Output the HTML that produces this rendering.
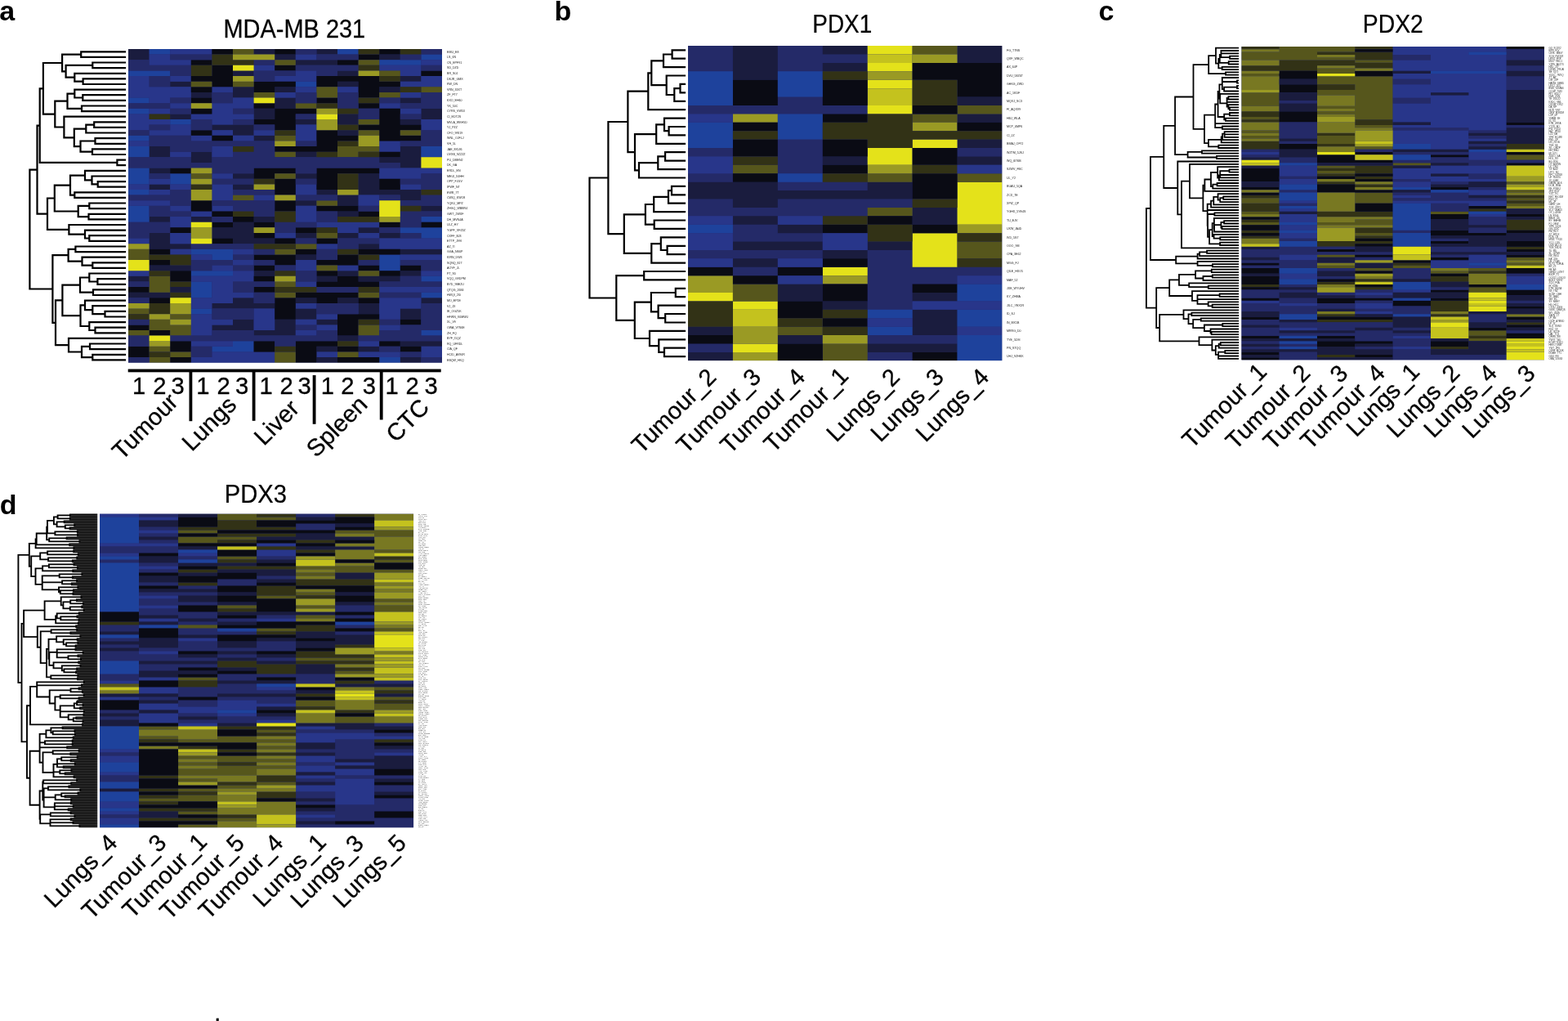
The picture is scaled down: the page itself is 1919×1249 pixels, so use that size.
<!DOCTYPE html>
<html><head><meta charset="utf-8"><title>Figure</title>
<style>
html,body{margin:0;padding:0;background:#fff;}
body{width:1919px;height:1249px;overflow:hidden;}
svg.fig{display:block;font-family:"Liberation Sans",Arial,sans-serif;}
</style></head><body>
<svg class="fig" width="1919" height="1249" viewBox="0 0 1919 1249">
<rect width="1919" height="1249" fill="#fff"/>
<g font-weight="bold" font-size="34">
<text x="-0.8" y="24.9">a</text>
<text x="678.4" y="24.7">b</text>
<text x="1344.4" y="24.9">c</text>
<text x="-0.2" y="628.6">d</text>
</g>
<g font-size="30.5" stroke="#000" stroke-width="0.25">
<text transform="translate(273.4 45.6) scale(0.95 1)">MDA-MB 231</text>
<text transform="translate(994.3 40.2) scale(0.915 1)">PDX1</text>
<text transform="translate(1667.8 40.2) scale(0.93 1)">PDX2</text>
<text transform="translate(274.8 614.7) scale(0.957 1)">PDX3</text>
<text x="262.2" y="1249" font-size="29">.</text>
</g>
<svg x="157.00" y="60.00" width="384.00" height="383.70" viewBox="0 0 15 58" preserveAspectRatio="none">
<rect width="15" height="58" fill="#242c70"/>
<path fill="#1a1c3e" d="M0 0h1v1h-1zM6 0h1v1h-1zM9 0h1v1h-1zM0 1h1v1h-1zM7 1h1v1h-1zM12 1h1v1h-1zM8 2h2v1h-2zM5 4h1v1h-1zM10 4h1v1h-1zM13 5h1v1h-1zM2 6h1v1h-1zM10 6h1v1h-1zM5 7h1v1h-1zM7 7h1v1h-1zM12 7h1v1h-1zM3 8h1v1h-1zM5 8h1v1h-1zM7 9h1v1h-1zM13 9h1v1h-1zM7 10h1v1h-1zM6 11h1v1h-1zM14 11h1v1h-1zM2 12h1v1h-1zM6 12h1v1h-1zM10 12h1v1h-1zM14 12h1v1h-1zM8 13h1v1h-1zM10 13h1v1h-1zM13 13h1v1h-1zM4 14h2v1h-2zM5 15h1v1h-1zM10 15h1v1h-1zM6 16h1v1h-1zM1 18h1v1h-1zM13 18h1v1h-1zM1 19h1v1h-1zM3 19h1v1h-1zM8 19h1v1h-1zM13 19h1v1h-1zM3 20h1v1h-1zM12 20h2v1h-2zM13 21h1v1h-1zM1 22h1v1h-1zM5 23h1v1h-1zM8 23h1v1h-1zM11 23h1v1h-1zM11 24h1v1h-1zM1 25h1v1h-1zM5 25h1v1h-1zM11 25h1v1h-1zM9 26h1v1h-1zM11 26h3v1h-3zM10 27h1v1h-1zM13 27h1v1h-1zM8 28h1v1h-1zM10 28h1v1h-1zM14 29h1v1h-1zM10 30h1v1h-1zM1 31h1v1h-1zM3 31h1v1h-1zM6 31h1v1h-1zM5 32h1v1h-1zM4 33h2v1h-2zM11 33h1v1h-1zM1 34h1v1h-1zM4 34h2v1h-2zM8 34h1v1h-1zM10 34h1v1h-1zM12 34h1v1h-1zM1 35h1v1h-1zM5 35h2v1h-2zM1 36h2v1h-2zM11 36h1v1h-1zM13 37h2v1h-2zM8 38h1v1h-1zM1 40h2v1h-2zM6 41h1v1h-1zM10 41h1v1h-1zM13 41h1v1h-1zM0 42h1v1h-1zM9 42h1v1h-1zM11 42h2v1h-2zM2 44h1v1h-1zM0 45h2v1h-2zM5 46h1v1h-1zM8 46h1v1h-1zM10 46h1v1h-1zM14 46h1v1h-1zM4 47h3v1h-3zM11 47h1v1h-1zM8 48h1v1h-1zM11 48h1v1h-1zM13 48h1v1h-1zM8 49h1v1h-1zM13 49h1v1h-1zM5 50h1v1h-1zM7 50h1v1h-1zM9 50h1v1h-1zM4 51h2v1h-2zM7 51h1v1h-1zM6 52h2v1h-2zM10 53h1v1h-1zM13 54h2v1h-2zM9 55h1v1h-1zM11 55h1v1h-1zM9 57h1v1h-1zM13 57h1v1h-1z"/>
<path fill="#1e429c" d="M1 0h1v1h-1zM10 0h1v1h-1zM14 1h1v1h-1zM12 2h2v1h-2zM0 4h2v1h-2zM8 6h1v1h-1zM0 9h1v1h-1zM0 11h1v1h-1zM2 13h1v1h-1zM0 16h1v1h-1zM0 18h1v1h-1zM14 18h1v1h-1zM0 19h1v1h-1zM14 19h1v1h-1zM0 22h1v1h-1zM0 23h1v1h-1zM2 23h1v1h-1zM0 24h1v1h-1zM2 24h1v1h-1zM0 26h1v1h-1zM0 29h1v1h-1zM0 30h1v1h-1zM0 31h1v1h-1zM14 31h1v1h-1zM13 33h2v1h-2zM14 34h1v1h-1zM3 37h2v1h-2zM4 38h1v1h-1zM12 38h1v1h-1zM12 39h1v1h-1zM12 40h1v1h-1zM3 41h2v1h-2zM14 42h1v1h-1zM3 43h1v1h-1zM3 44h1v1h-1zM3 45h1v1h-1zM14 45h1v1h-1zM3 48h1v1h-1zM14 52h1v1h-1zM5 54h1v1h-1zM4 55h2v1h-2zM12 57h1v1h-1z"/>
<path fill="#28368a" d="M2 0h2v1h-2zM1 1h1v1h-1zM8 1h1v1h-1zM1 2h2v1h-2zM14 2h1v1h-1zM6 3h1v1h-1zM12 3h2v1h-2zM8 4h1v1h-1zM13 4h1v1h-1zM0 5h1v1h-1zM2 5h1v1h-1zM7 5h2v1h-2zM14 5h1v1h-1zM0 6h1v1h-1zM13 6h2v1h-2zM0 7h3v1h-3zM4 7h1v1h-1zM8 7h1v1h-1zM10 7h1v1h-1zM0 8h3v1h-3zM7 8h1v1h-1zM13 8h1v1h-1zM1 9h1v1h-1zM5 9h1v1h-1zM2 10h1v1h-1zM4 10h2v1h-2zM12 10h1v1h-1zM1 11h1v1h-1zM4 11h1v1h-1zM13 11h1v1h-1zM0 12h1v1h-1zM3 12h3v1h-3zM0 13h2v1h-2zM4 13h1v1h-1zM14 13h1v1h-1zM0 14h1v1h-1zM2 14h1v1h-1zM8 14h1v1h-1zM14 14h1v1h-1zM1 15h2v1h-2zM4 15h1v1h-1zM6 15h1v1h-1zM8 15h1v1h-1zM3 16h1v1h-1zM5 16h1v1h-1zM8 16h1v1h-1zM0 17h1v1h-1zM12 17h1v1h-1zM4 18h1v1h-1zM12 18h1v1h-1zM2 19h1v1h-1zM4 19h1v1h-1zM12 22h3v1h-3zM4 23h1v1h-1zM12 23h2v1h-2zM1 24h1v1h-1zM0 25h1v1h-1zM2 25h1v1h-1zM4 25h1v1h-1zM8 25h1v1h-1zM13 25h1v1h-1zM1 26h1v1h-1zM4 26h1v1h-1zM8 26h1v1h-1zM4 27h1v1h-1zM6 27h1v1h-1zM11 27h1v1h-1zM0 28h2v1h-2zM11 28h1v1h-1zM2 29h1v1h-1zM4 29h1v1h-1zM8 29h1v1h-1zM3 30h1v1h-1zM8 30h1v1h-1zM2 31h1v1h-1zM8 31h1v1h-1zM2 32h1v1h-1zM9 32h3v1h-3zM10 33h1v1h-1zM2 34h1v1h-1zM7 34h1v1h-1zM11 34h1v1h-1zM0 35h1v1h-1zM2 35h1v1h-1zM12 35h3v1h-3zM9 36h1v1h-1zM12 36h3v1h-3zM2 37h1v1h-1zM5 37h1v1h-1zM3 38h1v1h-1zM13 38h2v1h-2zM5 39h1v1h-1zM8 39h1v1h-1zM4 40h1v1h-1zM8 40h1v1h-1zM10 40h1v1h-1zM0 41h1v1h-1zM5 41h1v1h-1zM14 41h1v1h-1zM3 42h3v1h-3zM4 43h1v1h-1zM8 43h1v1h-1zM4 44h1v1h-1zM12 44h3v1h-3zM4 45h2v1h-2zM3 46h2v1h-2zM12 46h2v1h-2zM3 47h1v1h-1zM8 47h1v1h-1zM12 47h2v1h-2zM6 48h1v1h-1zM12 48h1v1h-1zM3 49h1v1h-1zM6 49h1v1h-1zM9 49h1v1h-1zM12 49h1v1h-1zM3 50h2v1h-2zM6 50h1v1h-1zM8 50h1v1h-1zM3 51h1v1h-1zM6 51h1v1h-1zM9 51h1v1h-1zM12 51h1v1h-1zM3 52h1v1h-1zM8 52h1v1h-1zM3 54h2v1h-2zM11 54h1v1h-1zM14 55h1v1h-1zM4 56h3v1h-3zM9 56h1v1h-1zM11 56h2v1h-2zM14 56h1v1h-1zM3 57h4v1h-4z"/>
<path fill="#0a0b14" d="M4 0h1v1h-1zM7 0h1v1h-1zM12 0h1v1h-1zM11 1h1v1h-1zM3 2h1v1h-1zM10 2h1v1h-1zM4 3h1v1h-1zM7 3h1v1h-1zM4 4h1v1h-1zM14 4h1v1h-1zM3 5h2v1h-2zM9 5h3v1h-3zM4 6h1v1h-1zM6 6h2v1h-2zM9 6h1v1h-1zM11 6h2v1h-2zM3 7h1v1h-1zM6 7h1v1h-1zM11 7h1v1h-1zM11 8h1v1h-1zM3 9h1v1h-1zM9 9h1v1h-1zM6 10h1v1h-1zM11 10h1v1h-1zM3 11h1v1h-1zM7 11h2v1h-2zM12 11h1v1h-1zM7 12h1v1h-1zM12 12h1v1h-1zM6 13h2v1h-2zM12 13h1v1h-1zM7 14h1v1h-1zM11 14h3v1h-3zM3 15h1v1h-1zM9 15h1v1h-1zM12 15h1v1h-1zM4 16h1v1h-1zM9 16h2v1h-2zM12 16h2v1h-2zM9 17h1v1h-1zM7 18h3v1h-3zM12 19h1v1h-1zM2 22h1v1h-1zM6 22h2v1h-2zM9 22h3v1h-3zM6 23h1v1h-1zM9 23h1v1h-1zM7 24h1v1h-1zM9 24h1v1h-1zM12 24h1v1h-1zM7 25h1v1h-1zM9 25h1v1h-1zM12 25h1v1h-1zM7 26h1v1h-1zM3 28h1v1h-1zM7 28h1v1h-1zM3 29h1v1h-1zM7 29h1v1h-1zM9 29h2v1h-2zM4 30h1v1h-1zM11 30h1v1h-1zM5 31h1v1h-1zM4 32h1v1h-1zM6 32h1v1h-1zM12 32h1v1h-1zM14 32h1v1h-1zM2 33h1v1h-1zM8 33h1v1h-1zM6 34h1v1h-1zM4 35h1v1h-1zM7 35h1v1h-1zM9 35h1v1h-1zM1 37h1v1h-1zM8 37h1v1h-1zM11 37h2v1h-2zM6 38h2v1h-2zM10 38h1v1h-1zM1 39h1v1h-1zM7 39h1v1h-1zM9 39h2v1h-2zM6 40h1v1h-1zM11 40h1v1h-1zM13 40h1v1h-1zM2 41h1v1h-1zM9 41h1v1h-1zM12 41h1v1h-1zM2 42h1v1h-1zM6 42h1v1h-1zM10 42h1v1h-1zM9 43h3v1h-3zM0 44h1v1h-1zM6 44h1v1h-1zM8 45h3v1h-3zM1 46h1v1h-1zM7 46h1v1h-1zM9 46h1v1h-1zM11 46h1v1h-1zM7 47h1v1h-1zM7 48h1v1h-1zM7 49h1v1h-1zM10 49h2v1h-2zM10 50h1v1h-1zM13 50h1v1h-1zM0 51h1v1h-1zM10 51h1v1h-1zM1 52h1v1h-1zM10 52h1v1h-1zM2 54h1v1h-1zM6 54h1v1h-1zM8 54h2v1h-2zM12 54h1v1h-1zM0 55h1v1h-1zM2 55h1v1h-1zM6 55h1v1h-1zM8 55h1v1h-1zM10 55h1v1h-1zM13 55h1v1h-1zM0 56h1v1h-1zM8 56h1v1h-1zM2 57h1v1h-1zM8 57h1v1h-1zM10 57h2v1h-2z"/>
<path fill="#56561c" d="M5 0h1v1h-1zM7 2h1v1h-1zM11 2h1v1h-1zM12 4h1v1h-1zM3 6h1v1h-1zM5 6h1v1h-1zM9 7h1v1h-1zM14 7h1v1h-1zM6 8h1v1h-1zM9 8h1v1h-1zM12 8h1v1h-1zM8 10h1v1h-1zM11 13h1v1h-1zM11 15h1v1h-1zM13 15h1v1h-1zM7 16h1v1h-1zM10 18h2v1h-2zM7 19h1v1h-1zM10 19h1v1h-1zM3 23h1v1h-1zM7 23h1v1h-1zM5 27h1v1h-1zM9 28h1v1h-1zM9 34h1v1h-1zM8 36h1v1h-1zM0 37h1v1h-1zM7 37h1v1h-1zM0 38h1v1h-1zM9 40h1v1h-1zM11 41h1v1h-1zM1 42h1v1h-1zM1 43h1v1h-1zM7 43h1v1h-1zM1 44h1v1h-1zM7 45h1v1h-1zM11 45h1v1h-1zM0 48h1v1h-1zM2 49h1v1h-1zM1 50h1v1h-1zM1 51h2v1h-2zM11 51h1v1h-1zM0 52h1v1h-1zM2 52h1v1h-1zM11 52h1v1h-1zM1 55h1v1h-1zM2 56h1v1h-1zM7 56h1v1h-1zM10 56h1v1h-1zM1 57h1v1h-1zM7 57h1v1h-1z"/>
<path fill="#242a68" d="M8 0h1v1h-1zM14 0h1v1h-1zM2 1h2v1h-2zM9 1h2v1h-2zM13 1h1v1h-1zM0 2h1v1h-1zM6 2h1v1h-1zM0 3h3v1h-3zM8 3h3v1h-3zM14 3h1v1h-1zM2 4h1v1h-1zM6 4h2v1h-2zM9 4h1v1h-1zM1 5h1v1h-1zM6 5h1v1h-1zM1 6h1v1h-1zM4 8h1v1h-1zM8 8h1v1h-1zM10 8h1v1h-1zM14 8h1v1h-1zM2 9h1v1h-1zM4 9h1v1h-1zM8 9h1v1h-1zM10 9h1v1h-1zM12 9h1v1h-1zM14 9h1v1h-1zM0 10h2v1h-2zM10 10h1v1h-1zM13 10h2v1h-2zM2 11h1v1h-1zM5 11h1v1h-1zM11 11h1v1h-1zM8 12h1v1h-1zM11 12h1v1h-1zM13 12h1v1h-1zM3 13h1v1h-1zM5 13h1v1h-1zM1 14h1v1h-1zM3 14h1v1h-1zM6 14h1v1h-1zM0 15h1v1h-1zM14 15h1v1h-1zM1 16h2v1h-2zM14 16h1v1h-1zM1 17h6v1h-6zM8 17h1v1h-1zM13 17h2v1h-2zM2 18h2v1h-2zM6 18h1v1h-1zM5 19h2v1h-2zM0 20h3v1h-3zM4 20h8v1h-8zM0 21h13v1h-13zM4 22h2v1h-2zM8 22h1v1h-1zM1 23h1v1h-1zM14 23h1v1h-1zM4 24h2v1h-2zM8 24h1v1h-1zM13 24h2v1h-2zM14 25h1v1h-1zM2 26h1v1h-1zM5 26h2v1h-2zM0 27h3v1h-3zM8 27h2v1h-2zM12 27h1v1h-1zM14 27h1v1h-1zM2 28h1v1h-1zM4 28h3v1h-3zM13 28h2v1h-2zM1 29h1v1h-1zM5 29h2v1h-2zM11 29h1v1h-1zM1 30h2v1h-2zM6 30h1v1h-1zM9 30h1v1h-1zM13 30h2v1h-2zM4 31h1v1h-1zM9 31h1v1h-1zM13 31h1v1h-1zM0 32h2v1h-2zM7 32h2v1h-2zM13 32h1v1h-1zM0 33h2v1h-2zM7 33h1v1h-1zM12 33h1v1h-1zM0 34h1v1h-1zM13 34h1v1h-1zM8 35h1v1h-1zM10 35h2v1h-2zM3 36h3v1h-3zM10 36h1v1h-1zM6 37h1v1h-1zM9 37h1v1h-1zM5 38h1v1h-1zM9 38h1v1h-1zM3 39h2v1h-2zM6 39h1v1h-1zM11 39h1v1h-1zM13 39h2v1h-2zM3 40h1v1h-1zM5 40h1v1h-1zM7 40h1v1h-1zM14 40h1v1h-1zM8 41h1v1h-1zM8 42h1v1h-1zM13 42h1v1h-1zM0 43h1v1h-1zM5 43h2v1h-2zM12 43h3v1h-3zM5 44h1v1h-1zM9 44h2v1h-2zM6 45h1v1h-1zM12 45h2v1h-2zM0 46h1v1h-1zM6 46h1v1h-1zM9 47h2v1h-2zM14 47h1v1h-1zM4 48h2v1h-2zM9 48h2v1h-2zM14 48h1v1h-1zM4 49h2v1h-2zM14 49h1v1h-1zM0 50h1v1h-1zM12 50h1v1h-1zM14 50h1v1h-1zM8 51h1v1h-1zM13 51h2v1h-2zM4 52h2v1h-2zM9 52h1v1h-1zM12 52h2v1h-2zM0 53h1v1h-1zM2 53h8v1h-8zM11 53h4v1h-4zM0 54h1v1h-1zM7 54h1v1h-1zM3 55h1v1h-1zM12 55h1v1h-1zM3 56h1v1h-1zM13 56h1v1h-1zM0 57h1v1h-1zM14 57h1v1h-1z"/>
<path fill="#323216" d="M11 0h1v1h-1zM13 0h1v1h-1zM4 1h1v1h-1zM4 2h2v1h-2zM3 3h1v1h-1zM11 3h1v1h-1zM3 4h1v1h-1zM12 5h1v1h-1zM13 7h1v1h-1zM11 9h1v1h-1zM9 10h1v1h-1zM10 11h1v1h-1zM1 12h1v1h-1zM10 14h1v1h-1zM7 15h1v1h-1zM10 17h1v1h-1zM5 18h1v1h-1zM9 19h1v1h-1zM11 19h1v1h-1zM10 23h1v1h-1zM6 24h1v1h-1zM10 24h1v1h-1zM3 25h1v1h-1zM10 25h1v1h-1zM14 26h1v1h-1zM13 29h1v1h-1zM5 30h1v1h-1zM7 30h1v1h-1zM7 31h1v1h-1zM10 31h2v1h-2zM9 33h1v1h-1zM6 36h2v1h-2zM10 37h1v1h-1zM1 38h2v1h-2zM11 38h1v1h-1zM2 39h1v1h-1zM1 41h1v1h-1zM7 41h1v1h-1zM2 43h1v1h-1zM7 44h2v1h-2zM11 44h1v1h-1zM2 45h1v1h-1zM1 47h1v1h-1zM1 48h1v1h-1zM0 49h1v1h-1zM11 50h1v1h-1zM10 54h1v1h-1zM7 55h1v1h-1zM1 56h1v1h-1z"/>
<path fill="#9a9a24" d="M5 1h2v1h-2zM11 4h1v1h-1zM5 5h1v1h-1zM3 10h1v1h-1zM9 11h1v1h-1zM9 13h1v1h-1zM9 14h1v1h-1zM11 16h1v1h-1zM7 17h1v1h-1zM11 17h1v1h-1zM3 22h1v1h-1zM3 24h1v1h-1zM6 25h1v1h-1zM3 26h1v1h-1zM10 26h1v1h-1zM3 27h1v1h-1zM7 27h1v1h-1zM12 31h1v1h-1zM3 33h1v1h-1zM6 33h1v1h-1zM3 34h1v1h-1zM0 36h1v1h-1zM7 42h1v1h-1zM0 47h1v1h-1zM2 47h1v1h-1zM2 48h1v1h-1zM1 49h1v1h-1zM2 50h1v1h-1zM1 54h1v1h-1z"/>
<path fill="#e4e21a" d="M5 3h1v1h-1zM6 9h1v1h-1zM9 12h1v1h-1zM14 20h1v1h-1zM14 21h1v1h-1zM12 28h1v1h-1zM12 29h1v1h-1zM12 30h1v1h-1zM3 32h1v1h-1zM3 35h1v1h-1zM0 39h1v1h-1zM0 40h1v1h-1zM2 46h1v1h-1zM1 53h1v1h-1z"/>
</svg>
<path fill="none" stroke="#000" stroke-width="2.2" stroke-linecap="square" d="M153.0 63.3H99.2V69.9H153.0M153.0 76.5H113.3V83.2H153.0M153.0 96.4H101.6V103.0H153.0M153.0 89.8H91.3V99.7H101.6M113.3 79.8H80.6V94.7H91.3M99.2 66.6H76.1V87.3H80.6M153.0 116.2H101.3V122.8H153.0M153.0 109.6H91.3V119.5H101.3M153.0 129.5H100.0V136.1H153.0M91.3 114.6H82.5V132.8H100.0M153.0 149.3H115.2V155.9H153.0M115.2 152.6H105.3V162.5H153.0M153.0 169.2H116.5V175.8H153.0M153.0 182.4H113.0V189.0H153.0M116.5 172.5H98.5V185.7H113.0M105.3 157.6H90.8V179.1H98.5M153.0 142.7H78.4V168.3H90.8M82.5 123.7H67.3V155.5H78.4M76.1 77.0H52.9V139.6H67.3M153.0 195.6H143.4V202.2H153.0M52.9 108.3H48.7V198.9H143.4M153.0 222.1H119.7V228.7H153.0M153.0 215.5H112.5V225.4H119.7M153.0 208.8H104.0V220.4H112.5M153.0 235.3H91.3V241.9H153.0M104.0 214.6H86.0V238.6H91.3M153.0 248.5H109.3V255.2H153.0M153.0 261.8H108.5V268.4H153.0M109.3 251.8H95.7V265.1H108.5M86.0 226.6H66.8V258.5H95.7M153.0 288.2H109.3V294.9H153.0M153.0 281.6H104.0V291.5H109.3M153.0 275.0H84.4V286.6H104.0M66.8 242.5H58.0V280.8H84.4M48.7 153.6H45.5V261.7H58.0M153.0 301.5H92.4V308.1H153.0M153.0 321.3H113.3V327.9H153.0M153.0 314.7H100.5V324.6H113.3M92.4 304.8H83.6V319.7H100.5M153.0 341.2H119.4V347.8H153.0M153.0 334.5H109.3V344.5H119.4M153.0 354.4H114.0V361.0H153.0M109.3 339.5H98.0V357.7H114.0M153.0 380.9H128.5V387.5H153.0M153.0 374.2H113.3V384.2H128.5M153.0 367.6H104.0V379.2H113.3M153.0 400.7H116.5V407.3H153.0M153.0 394.1H109.3V404.0H116.5M104.0 373.4H98.5V399.0H109.3M98.0 348.6H76.4V386.2H98.5M153.0 420.5H110.0V427.2H153.0M153.0 433.8H113.3V440.4H153.0M110.0 423.9H100.0V437.1H113.3M153.0 413.9H84.0V430.5H100.0M76.4 367.4H68.0V422.2H84.0M83.6 312.2H64.4V394.8H68.0M45.5 207.6H36.4V353.5H64.4"/>
<g font-size="3.60" fill="#222">
<text x="547.0" y="64.57">EMU_E8</text>
<text x="547.0" y="71.18">LS_6N</text>
<text x="547.0" y="77.80">CN_EPF91</text>
<text x="547.0" y="84.41">SD_DZD</text>
<text x="547.0" y="91.03">BR_S0J</text>
<text x="547.0" y="97.65">DSJR_GMX</text>
<text x="547.0" y="104.26">RW_DN</text>
<text x="547.0" y="110.88">VRN_33XT</text>
<text x="547.0" y="117.49">ZF_FT7</text>
<text x="547.0" y="124.11">KXO_EH60</text>
<text x="547.0" y="130.72">YK_50C</text>
<text x="547.0" y="137.34">CYRS_VW53</text>
<text x="547.0" y="143.95">CI_EDT2S</text>
<text x="547.0" y="150.57">MVLA_WKH5D</text>
<text x="547.0" y="157.19">YJ_PZZ</text>
<text x="547.0" y="163.80">CFO_9RI19</text>
<text x="547.0" y="170.42">WNL_OJFLJ</text>
<text x="547.0" y="177.03">VH_5L</text>
<text x="547.0" y="183.65">JAE_8XUI6</text>
<text x="547.0" y="190.26">UVXB_9ZZZZ</text>
<text x="547.0" y="196.88">PU_DMEN2</text>
<text x="547.0" y="203.49">DK_GA</text>
<text x="547.0" y="210.11">ERDL_EN</text>
<text x="547.0" y="216.72">MEUI_X4HH</text>
<text x="547.0" y="223.34">OPP_FJGV</text>
<text x="547.0" y="229.96">IPWF_N7</text>
<text x="547.0" y="236.57">EWR_7T</text>
<text x="547.0" y="243.19">CWIQ_KWO8</text>
<text x="547.0" y="249.80">YQKU_MPZ</text>
<text x="547.0" y="256.42">ZHGQ_WBBR4</text>
<text x="547.0" y="263.03">GWT_2WXF</text>
<text x="547.0" y="269.65">DH_MVN4A</text>
<text x="547.0" y="276.26">ULZ_HY</text>
<text x="547.0" y="282.88">YGPF_VFZ3Z</text>
<text x="547.0" y="289.50">CXFF_BJ3</text>
<text x="547.0" y="296.11">ETTP_J99I</text>
<text x="547.0" y="302.73">AZ_7I</text>
<text x="547.0" y="309.34">GGA_NS6P</text>
<text x="547.0" y="315.96">KIRN_DW3</text>
<text x="547.0" y="322.57">SQNQ_8J7</text>
<text x="547.0" y="329.19">AOYF_JL</text>
<text x="547.0" y="335.80">PT_9D</text>
<text x="547.0" y="342.42">VQQ_G9DPM</text>
<text x="547.0" y="349.03">BYD_9BE2U</text>
<text x="547.0" y="355.65">QTQG_2684</text>
<text x="547.0" y="362.27">HWQI_2I0</text>
<text x="547.0" y="368.88">MO_EP1E</text>
<text x="547.0" y="375.50">VJ_JX</text>
<text x="547.0" y="382.11">IE_OGZ5K</text>
<text x="547.0" y="388.73">HFWN_V0MWU</text>
<text x="547.0" y="395.34">XL_V9</text>
<text x="547.0" y="401.96">OWA_V7S6E</text>
<text x="547.0" y="408.57">ZH_FQ</text>
<text x="547.0" y="415.19">BYF_I1QZ</text>
<text x="547.0" y="421.81">RQ_UFRDL</text>
<text x="547.0" y="428.42">CIA_QF</text>
<text x="547.0" y="435.04">HCID_AV90R</text>
<text x="547.0" y="441.65">EBQW_HKQ</text>
</g>
<rect x="156.7" y="451.5" width="383" height="3.8" fill="#000"/>
<rect x="231.5" y="455.0" width="3.8" height="60.2" fill="#000"/>
<rect x="308.7" y="455.0" width="3.8" height="59.8" fill="#000"/>
<rect x="382.7" y="459.0" width="3.8" height="59.8" fill="#000"/>
<rect x="464.8" y="455.0" width="3.8" height="58.5" fill="#000"/>
<g font-size="29.2" text-anchor="middle" stroke="#000" stroke-width="0.3">
<text x="170.0" y="481.5">1</text>
<text x="195.4" y="481.5">2</text>
<text x="217.7" y="481.5">3</text>
<text x="248.4" y="481.5">1</text>
<text x="273.5" y="481.5">2</text>
<text x="296.0" y="481.5">3</text>
<text x="325.7" y="481.5">1</text>
<text x="350.5" y="481.5">2</text>
<text x="372.7" y="481.5">3</text>
<text x="400.9" y="481.5">1</text>
<text x="425.3" y="481.5">2</text>
<text x="451.9" y="481.5">3</text>
<text x="479.5" y="481.5">1</text>
<text x="504.7" y="481.5">2</text>
<text x="527.5" y="481.5">3</text>
</g>
<text x="0" y="0" font-size="29.2" text-anchor="end" stroke="#000" stroke-width="0.3" transform="translate(219.5 493.3) rotate(-45)">Tumour</text>
<text x="0" y="0" font-size="29.2" text-anchor="end" stroke="#000" stroke-width="0.3" transform="translate(291.1 497.0) rotate(-45)">Lungs</text>
<text x="0" y="0" font-size="29.2" text-anchor="end" stroke="#000" stroke-width="0.3" transform="translate(367.8 501.4) rotate(-45)">Liver</text>
<text x="0" y="0" font-size="29.2" text-anchor="end" stroke="#000" stroke-width="0.3" transform="translate(451.2 496.6) rotate(-45)">Spleen</text>
<text x="0" y="0" font-size="29.2" text-anchor="end" stroke="#000" stroke-width="0.3" transform="translate(526.9 500.0) rotate(-45)">CTC</text>
<svg x="842.00" y="56.10" width="384.50" height="385.20" viewBox="0 0 7 37" preserveAspectRatio="none">
<rect width="7" height="37" fill="#242c70"/>
<path fill="#242a68" d="M0 0h1v1h-1zM2 0h1v1h-1zM0 1h1v1h-1zM2 1h2v1h-2zM0 2h1v1h-1zM2 2h1v1h-1zM2 6h1v1h-1zM0 7h4v1h-4zM2 11h1v1h-1zM0 12h1v1h-1zM2 12h1v1h-1zM6 12h1v1h-1zM2 13h1v1h-1zM2 14h1v1h-1zM0 15h1v1h-1zM2 16h2v1h-2zM0 18h1v1h-1zM2 18h3v1h-3zM0 19h4v1h-4zM1 21h1v1h-1zM1 22h2v1h-2zM0 24h3v1h-3zM4 24h1v1h-1zM4 25h1v1h-1zM1 26h1v1h-1zM4 26h3v1h-3zM4 27h2v1h-2zM4 28h1v1h-1zM4 29h1v1h-1zM4 30h1v1h-1zM4 34h2v1h-2zM0 35h1v1h-1zM4 36h1v1h-1z"/>
<path fill="#1a1c3e" d="M1 0h1v1h-1zM3 0h1v1h-1zM6 0h1v1h-1zM1 1h1v1h-1zM6 1h1v1h-1zM1 2h1v1h-1zM3 2h1v1h-1zM1 3h1v1h-1zM6 6h1v1h-1zM6 8h1v1h-1zM6 11h1v1h-1zM3 13h1v1h-1zM6 13h1v1h-1zM0 16h2v1h-2zM4 16h1v1h-1zM0 17h5v1h-5zM1 18h1v1h-1zM5 19h1v1h-1zM1 20h1v1h-1zM5 20h1v1h-1zM2 21h1v1h-1zM1 23h2v1h-2zM4 23h1v1h-1zM3 24h1v1h-1zM1 25h1v1h-1zM2 28h1v1h-1zM2 29h1v1h-1zM5 29h1v1h-1zM3 30h1v1h-1zM5 31h1v1h-1zM5 32h1v1h-1zM0 33h1v1h-1zM5 33h1v1h-1zM2 34h1v1h-1zM4 35h2v1h-2zM0 36h1v1h-1z"/>
<path fill="#e4e21a" d="M4 0h1v1h-1zM4 2h1v1h-1zM4 4h1v1h-1zM4 7h1v1h-1zM5 11h1v1h-1zM4 12h1v1h-1zM4 13h1v1h-1zM6 16h1v1h-1zM6 17h1v1h-1zM6 18h1v1h-1zM6 19h1v1h-1zM6 20h1v1h-1zM5 22h1v1h-1zM5 23h1v1h-1zM5 24h1v1h-1zM5 25h1v1h-1zM3 26h1v1h-1zM0 29h1v1h-1zM1 30h1v1h-1zM1 35h1v1h-1z"/>
<path fill="#56561c" d="M5 0h1v1h-1zM6 7h1v1h-1zM5 8h1v1h-1zM1 14h1v1h-1zM4 15h1v1h-1zM6 15h1v1h-1zM4 19h1v1h-1zM6 23h1v1h-1zM6 24h1v1h-1zM1 28h1v1h-1zM1 29h1v1h-1zM2 33h1v1h-1zM3 35h1v1h-1zM3 36h1v1h-1z"/>
<path fill="#c4c21e" d="M4 1h1v1h-1zM4 5h1v1h-1zM4 6h1v1h-1zM1 31h1v1h-1zM1 32h1v1h-1z"/>
<path fill="#9a9a24" d="M5 1h1v1h-1zM4 3h1v1h-1zM1 8h1v1h-1zM5 9h1v1h-1zM4 14h1v1h-1zM6 21h1v1h-1zM0 27h1v1h-1zM3 27h1v1h-1zM0 28h1v1h-1zM1 33h1v1h-1zM1 34h1v1h-1zM3 34h1v1h-1zM1 36h1v1h-1z"/>
<path fill="#0a0b14" d="M5 2h2v1h-2zM5 3h2v1h-2zM1 4h1v1h-1zM3 4h1v1h-1zM6 4h1v1h-1zM1 5h1v1h-1zM3 5h1v1h-1zM6 5h1v1h-1zM1 6h1v1h-1zM3 6h1v1h-1zM5 7h1v1h-1zM3 8h1v1h-1zM1 9h1v1h-1zM6 9h1v1h-1zM1 11h1v1h-1zM3 11h1v1h-1zM1 12h1v1h-1zM3 12h1v1h-1zM5 12h1v1h-1zM5 13h1v1h-1zM3 14h1v1h-1zM1 15h1v1h-1zM5 15h1v1h-1zM5 16h1v1h-1zM5 17h1v1h-1zM4 20h1v1h-1zM3 21h1v1h-1zM5 21h1v1h-1zM3 25h1v1h-1zM0 26h1v1h-1zM2 26h1v1h-1zM1 27h1v1h-1zM3 28h1v1h-1zM5 28h1v1h-1zM3 29h1v1h-1zM2 30h1v1h-1zM2 31h1v1h-1zM3 32h1v1h-1zM0 34h1v1h-1zM2 35h1v1h-1zM2 36h1v1h-1zM5 36h1v1h-1z"/>
<path fill="#1e429c" d="M0 3h1v1h-1zM2 3h1v1h-1zM0 4h1v1h-1zM2 4h1v1h-1zM0 5h1v1h-1zM2 5h1v1h-1zM0 6h1v1h-1zM2 8h1v1h-1zM0 9h1v1h-1zM2 9h1v1h-1zM0 10h1v1h-1zM2 10h1v1h-1zM0 11h1v1h-1zM2 15h1v1h-1zM0 21h1v1h-1zM6 28h1v1h-1zM6 29h1v1h-1zM4 31h1v1h-1zM6 31h1v1h-1zM6 32h1v1h-1zM4 33h1v1h-1zM6 34h1v1h-1zM6 35h1v1h-1zM6 36h1v1h-1z"/>
<path fill="#323216" d="M3 3h1v1h-1zM5 4h1v1h-1zM5 5h1v1h-1zM5 6h1v1h-1zM4 8h1v1h-1zM3 9h2v1h-2zM1 10h1v1h-1zM3 10h4v1h-4zM4 11h1v1h-1zM1 13h1v1h-1zM5 14h1v1h-1zM3 15h1v1h-1zM5 18h1v1h-1zM3 20h1v1h-1zM4 21h1v1h-1zM4 22h1v1h-1zM6 22h1v1h-1zM6 25h1v1h-1zM0 30h1v1h-1zM0 31h1v1h-1zM3 31h1v1h-1zM0 32h1v1h-1zM2 32h1v1h-1zM3 33h1v1h-1z"/>
<path fill="#28368a" d="M0 8h1v1h-1zM0 13h1v1h-1zM0 14h1v1h-1zM6 14h1v1h-1zM0 20h1v1h-1zM2 20h1v1h-1zM0 22h1v1h-1zM3 22h1v1h-1zM0 23h1v1h-1zM3 23h1v1h-1zM0 25h1v1h-1zM2 25h1v1h-1zM2 27h1v1h-1zM6 27h1v1h-1zM5 30h2v1h-2zM4 32h1v1h-1zM6 33h1v1h-1z"/>
</svg>
<path fill="none" stroke="#000" stroke-width="2.2" stroke-linecap="square" d="M838.0 61.3H822.6V71.7H838.0M822.6 66.5H812.0V82.1H838.0M838.0 102.9H832.5V113.4H838.0M832.5 108.2H825.3V123.8H838.0M838.0 92.5H815.7V116.0H825.3M812.0 74.3H797.3V104.2H815.7M797.3 89.3H793.3V134.2H838.0M838.0 155.0H818.6V165.4H838.0M838.0 144.6H813.0V160.2H818.6M813.0 152.4H803.2V175.8H838.0M838.0 186.2H814.1V196.6H838.0M814.1 191.4H805.3V207.1H838.0M805.3 199.2H782.0V217.5H838.0M803.2 164.1H777.0V208.4H782.0M793.3 111.7H768.4V186.2H777.0M838.0 227.9H822.0V238.3H838.0M822.0 233.1H818.0V248.7H838.0M818.0 240.9H800.2V259.1H838.0M838.0 269.5H800.7V279.9H838.0M800.2 250.0H789.9V274.7H800.7M838.0 300.8H816.6V311.2H838.0M838.0 290.3H808.8V306.0H816.6M808.8 298.2H797.3V321.6H838.0M789.9 262.4H763.8V309.9H797.3M768.4 149.0H744.4V286.1H763.8M838.0 332.0H788.2V342.4H838.0M838.0 352.8H826.8V363.2H838.0M838.0 384.0H814.2V394.5H838.0M838.0 373.6H805.6V389.2H814.2M826.8 358.0H796.9V381.4H805.6M838.0 425.7H813.0V436.1H838.0M838.0 415.3H806.3V430.9H813.0M838.0 404.9H795.0V423.1H806.3M796.9 369.7H776.8V414.0H795.0M788.2 337.2H754.3V391.8H776.8M744.4 217.5H721.5V364.5H754.3"/>
<g font-size="3.60" fill="#222">
<text x="1232.0" y="62.57">FG_T7NS</text>
<text x="1232.0" y="72.98">QVF_WBQC</text>
<text x="1232.0" y="83.39">AX_64P</text>
<text x="1232.0" y="93.80">DVU_58Z6T</text>
<text x="1232.0" y="104.21">GHKG_ZWD</text>
<text x="1232.0" y="114.62">AC_1KDF</text>
<text x="1232.0" y="125.03">MQVJ_SC3</text>
<text x="1232.0" y="135.44">FI_AQXV9</text>
<text x="1232.0" y="145.85">HBJ_WLA</text>
<text x="1232.0" y="156.26">MCP_6MP6</text>
<text x="1232.0" y="166.67">CI_JZ</text>
<text x="1232.0" y="177.08">BMAJ_OF7J</text>
<text x="1232.0" y="187.50">WZTM_5JSJ</text>
<text x="1232.0" y="197.91">WQ_6I76B</text>
<text x="1232.0" y="208.32">SZWV_FBC</text>
<text x="1232.0" y="218.73">UL_Y2</text>
<text x="1232.0" y="229.14">BUAU_5QA</text>
<text x="1232.0" y="239.55">ZCX_7E</text>
<text x="1232.0" y="249.96">XPIZ_QP</text>
<text x="1232.0" y="260.37">YGHX_5YE4S</text>
<text x="1232.0" y="270.78">TU_EJV</text>
<text x="1232.0" y="281.19">UXW_IA4D</text>
<text x="1232.0" y="291.60">IVD_5S7</text>
<text x="1232.0" y="302.01">OOO_9M</text>
<text x="1232.0" y="312.42">CPA_3E62</text>
<text x="1232.0" y="322.84">MGG_FJ</text>
<text x="1232.0" y="333.25">QILE_HXO5</text>
<text x="1232.0" y="343.66">MAF_52</text>
<text x="1232.0" y="354.07">JXE_WYUHV</text>
<text x="1232.0" y="364.48">KY_ZHMA</text>
<text x="1232.0" y="374.89">JILC_YEX1R</text>
<text x="1232.0" y="385.30">ID_SJ</text>
<text x="1232.0" y="395.71">IN_MX1B</text>
<text x="1232.0" y="406.12">MRRG_D0</text>
<text x="1232.0" y="416.53">TYE_5D9I</text>
<text x="1232.0" y="426.94">PN_STQQ</text>
<text x="1232.0" y="437.35">UHJ_9ZHKK</text>
</g>
<text x="0" y="0" font-size="29.2" text-anchor="end" stroke="#000" stroke-width="0.3" transform="translate(878.3 462.9) rotate(-45)">Tumour_2</text>
<text x="0" y="0" font-size="29.2" text-anchor="end" stroke="#000" stroke-width="0.3" transform="translate(933.1 462.9) rotate(-45)">Tumour_3</text>
<text x="0" y="0" font-size="29.2" text-anchor="end" stroke="#000" stroke-width="0.3" transform="translate(986.9 462.9) rotate(-45)">Tumour_4</text>
<text x="0" y="0" font-size="29.2" text-anchor="end" stroke="#000" stroke-width="0.3" transform="translate(1040.1 461.5) rotate(-45)">Tumour_1</text>
<text x="0" y="0" font-size="29.2" text-anchor="end" stroke="#000" stroke-width="0.3" transform="translate(1102.7 462.9) rotate(-45)">Lungs_2</text>
<text x="0" y="0" font-size="29.2" text-anchor="end" stroke="#000" stroke-width="0.3" transform="translate(1156.8 462.9) rotate(-45)">Lungs_3</text>
<text x="0" y="0" font-size="29.2" text-anchor="end" stroke="#000" stroke-width="0.3" transform="translate(1211.9 462.9) rotate(-45)">Lungs_4</text>
<svg x="1519.30" y="57.00" width="370.70" height="383.50" viewBox="0 0 8 116" preserveAspectRatio="none">
<rect width="8" height="116" fill="#242c70"/>
<path fill="#323216" d="M0 0h1v1h-1zM3 0h1v1h-1zM2 2h2v1h-2zM3 3h1v1h-1zM3 4h1v1h-1zM1 5h2v1h-2zM1 6h3v1h-3zM0 7h2v1h-2zM3 7h1v1h-1zM0 8h2v1h-2zM2 14h1v1h-1zM2 15h1v1h-1zM0 24h1v1h-1zM0 25h1v1h-1zM0 27h1v1h-1zM3 27h1v1h-1zM3 28h1v1h-1zM2 32h1v1h-1zM0 35h1v1h-1zM0 36h1v1h-1zM2 36h1v1h-1zM7 36h1v1h-1zM0 37h1v1h-1zM7 37h1v1h-1zM3 44h1v1h-1zM2 45h2v1h-2zM3 46h1v1h-1zM2 47h1v1h-1zM3 48h1v1h-1zM2 50h1v1h-1zM3 51h1v1h-1zM0 55h1v1h-1zM7 55h1v1h-1zM7 57h1v1h-1zM0 58h1v1h-1zM0 59h1v1h-1zM0 60h1v1h-1zM6 60h1v1h-1zM2 61h2v1h-2zM2 62h2v1h-2zM0 64h1v1h-1zM7 64h1v1h-1zM7 65h1v1h-1zM7 66h1v1h-1zM3 67h1v1h-1zM7 67h1v1h-1zM0 68h1v1h-1zM3 68h1v1h-1zM0 70h1v1h-1zM3 70h1v1h-1zM2 72h2v1h-2zM2 73h1v1h-1zM7 74h1v1h-1zM4 80h1v1h-1zM6 83h1v1h-1zM5 85h1v1h-1zM3 86h1v1h-1zM5 86h1v1h-1zM2 87h1v1h-1zM0 88h1v1h-1zM3 89h1v1h-1zM5 94h1v1h-1zM5 95h1v1h-1zM5 96h1v1h-1zM5 97h1v1h-1zM2 99h1v1h-1zM5 99h1v1h-1zM2 101h2v1h-2zM7 102h1v1h-1zM6 107h1v1h-1zM5 111h1v1h-1zM2 114h1v1h-1z"/>
<path fill="#56561c" d="M1 0h2v1h-2zM1 1h2v1h-2zM0 2h2v1h-2zM0 3h2v1h-2zM0 4h3v1h-3zM3 5h1v1h-1zM2 8h1v1h-1zM2 9h1v1h-1zM0 10h1v1h-1zM2 11h2v1h-2zM2 12h2v1h-2zM2 13h2v1h-2zM3 14h1v1h-1zM3 15h1v1h-1zM2 16h2v1h-2zM0 17h1v1h-1zM2 17h2v1h-2zM0 18h1v1h-1zM3 18h1v1h-1zM0 19h1v1h-1zM3 19h1v1h-1zM0 20h1v1h-1zM3 20h1v1h-1zM0 21h1v1h-1zM3 21h1v1h-1zM2 22h2v1h-2zM3 23h1v1h-1zM2 24h2v1h-2zM3 25h1v1h-1zM0 26h1v1h-1zM3 26h1v1h-1zM3 29h1v1h-1zM0 31h1v1h-1zM0 33h1v1h-1zM2 33h1v1h-1zM2 34h1v1h-1zM2 35h1v1h-1zM3 37h1v1h-1zM7 40h1v1h-1zM7 41h1v1h-1zM4 43h1v1h-1zM2 44h1v1h-1zM2 46h1v1h-1zM7 50h1v1h-1zM7 53h1v1h-1zM3 54h1v1h-1zM3 55h1v1h-1zM0 56h1v1h-1zM3 56h1v1h-1zM7 56h1v1h-1zM0 57h1v1h-1zM3 57h1v1h-1zM7 58h1v1h-1zM0 61h1v1h-1zM5 61h1v1h-1zM3 64h1v1h-1zM0 65h1v1h-1zM2 65h2v1h-2zM3 69h1v1h-1zM2 77h1v1h-1zM7 78h1v1h-1zM7 80h1v1h-1zM2 81h1v1h-1zM4 81h1v1h-1zM3 82h1v1h-1zM6 82h1v1h-1zM5 83h1v1h-1zM6 89h1v1h-1zM6 90h1v1h-1zM6 105h1v1h-1zM6 106h1v1h-1zM6 108h1v1h-1z"/>
<path fill="#28368a" d="M4 0h3v1h-3zM4 1h3v1h-3zM4 2h2v1h-2zM5 3h2v1h-2zM5 4h2v1h-2zM4 5h3v1h-3zM4 6h3v1h-3zM4 7h3v1h-3zM4 8h3v1h-3zM4 10h3v1h-3zM4 11h3v1h-3zM5 12h2v1h-2zM5 13h2v1h-2zM4 14h3v1h-3zM4 15h3v1h-3zM4 16h3v1h-3zM4 17h1v1h-1zM6 17h1v1h-1zM4 18h3v1h-3zM5 19h2v1h-2zM5 20h2v1h-2zM4 21h3v1h-3zM4 22h3v1h-3zM4 23h3v1h-3zM4 24h3v1h-3zM4 25h3v1h-3zM4 26h3v1h-3zM4 27h3v1h-3zM5 28h2v1h-2zM4 29h3v1h-3zM6 30h1v1h-1zM4 31h2v1h-2zM4 32h2v1h-2zM4 33h2v1h-2zM4 34h3v1h-3zM4 35h2v1h-2zM5 36h1v1h-1zM5 37h1v1h-1zM0 39h1v1h-1zM6 39h1v1h-1zM6 40h1v1h-1zM6 41h1v1h-1zM1 44h1v1h-1zM5 44h2v1h-2zM1 45h1v1h-1zM4 45h3v1h-3zM1 46h1v1h-1zM4 46h3v1h-3zM1 47h1v1h-1zM4 47h1v1h-1zM4 48h2v1h-2zM1 49h1v1h-1zM5 49h2v1h-2zM1 50h1v1h-1zM4 50h1v1h-1zM4 51h1v1h-1zM6 53h1v1h-1zM6 54h1v1h-1zM4 55h1v1h-1zM1 57h1v1h-1zM4 57h3v1h-3zM6 58h1v1h-1zM1 60h1v1h-1zM1 62h1v1h-1zM6 62h1v1h-1zM1 63h1v1h-1zM1 64h1v1h-1zM1 66h1v1h-1zM1 67h1v1h-1zM1 69h1v1h-1zM1 70h1v1h-1zM1 77h1v1h-1zM6 77h1v1h-1zM1 78h1v1h-1zM6 78h1v1h-1zM5 79h2v1h-2zM5 80h1v1h-1zM5 81h2v1h-2zM1 84h1v1h-1zM1 85h1v1h-1zM7 85h1v1h-1zM7 86h1v1h-1zM7 87h1v1h-1zM4 90h1v1h-1zM3 91h1v1h-1zM0 94h1v1h-1zM1 95h1v1h-1zM3 95h1v1h-1zM3 96h1v1h-1zM3 98h1v1h-1zM1 104h1v1h-1zM4 107h1v1h-1zM4 111h1v1h-1z"/>
<path fill="#0a0b14" d="M7 0h1v1h-1zM3 1h1v1h-1zM1 9h1v1h-1zM3 9h1v1h-1zM1 10h1v1h-1zM3 10h1v1h-1zM1 11h1v1h-1zM1 14h1v1h-1zM1 15h1v1h-1zM1 16h1v1h-1zM1 24h1v1h-1zM1 25h1v1h-1zM1 26h1v1h-1zM1 27h1v1h-1zM7 28h1v1h-1zM1 36h1v1h-1zM1 37h1v1h-1zM3 39h1v1h-1zM7 39h1v1h-1zM2 40h1v1h-1zM5 40h1v1h-1zM2 41h1v1h-1zM2 42h2v1h-2zM7 43h1v1h-1zM0 45h1v1h-1zM0 46h1v1h-1zM0 47h1v1h-1zM3 47h1v1h-1zM0 48h1v1h-1zM2 48h1v1h-1zM0 49h1v1h-1zM3 49h1v1h-1zM2 51h1v1h-1zM0 52h1v1h-1zM2 52h1v1h-1zM5 52h1v1h-1zM2 53h2v1h-2zM0 54h1v1h-1zM3 58h1v1h-1zM3 59h1v1h-1zM6 59h1v1h-1zM3 60h1v1h-1zM5 62h1v1h-1zM7 62h1v1h-1zM0 63h1v1h-1zM5 63h1v1h-1zM0 66h1v1h-1zM0 67h1v1h-1zM5 68h1v1h-1zM7 68h1v1h-1zM0 69h1v1h-1zM5 69h2v1h-2zM3 71h1v1h-1zM5 72h1v1h-1zM7 72h1v1h-1zM3 73h1v1h-1zM7 73h1v1h-1zM2 75h1v1h-1zM7 75h1v1h-1zM3 77h1v1h-1zM7 77h1v1h-1zM5 78h1v1h-1zM4 79h1v1h-1zM0 80h1v1h-1zM0 82h1v1h-1zM7 82h1v1h-1zM0 83h1v1h-1zM3 83h1v1h-1zM7 83h1v1h-1zM5 84h1v1h-1zM0 85h1v1h-1zM0 86h1v1h-1zM2 86h1v1h-1zM0 87h1v1h-1zM3 88h1v1h-1zM6 88h1v1h-1zM0 89h1v1h-1zM5 90h1v1h-1zM7 90h1v1h-1zM7 91h1v1h-1zM0 93h1v1h-1zM2 93h2v1h-2zM5 93h1v1h-1zM2 94h1v1h-1zM4 94h1v1h-1zM4 95h1v1h-1zM7 96h1v1h-1zM0 100h1v1h-1zM2 100h2v1h-2zM7 100h1v1h-1zM7 103h1v1h-1zM6 104h1v1h-1zM7 106h1v1h-1zM0 107h1v1h-1zM2 107h1v1h-1zM7 107h1v1h-1zM2 109h2v1h-2zM5 109h1v1h-1zM2 110h1v1h-1zM5 110h1v1h-1zM0 113h1v1h-1zM3 114h1v1h-1zM0 115h1v1h-1z"/>
<path fill="#787822" d="M0 1h1v1h-1zM2 3h1v1h-1zM0 5h1v1h-1zM0 6h1v1h-1zM2 7h1v1h-1zM3 8h1v1h-1zM0 9h1v1h-1zM0 11h1v1h-1zM0 12h1v1h-1zM0 13h1v1h-1zM0 14h1v1h-1zM0 15h1v1h-1zM2 18h1v1h-1zM2 19h1v1h-1zM2 20h1v1h-1zM2 21h1v1h-1zM0 22h1v1h-1zM0 23h1v1h-1zM2 23h1v1h-1zM2 25h1v1h-1zM0 28h1v1h-1zM2 28h1v1h-1zM0 29h1v1h-1zM2 29h1v1h-1zM0 30h1v1h-1zM2 30h2v1h-2zM2 31h1v1h-1zM0 32h1v1h-1zM0 34h1v1h-1zM2 37h1v1h-1zM2 38h1v1h-1zM2 49h1v1h-1zM3 50h1v1h-1zM3 52h1v1h-1zM0 53h1v1h-1zM2 54h1v1h-1zM7 54h1v1h-1zM2 55h1v1h-1zM2 56h1v1h-1zM2 57h1v1h-1zM2 58h1v1h-1zM2 59h1v1h-1zM7 59h1v1h-1zM2 60h1v1h-1zM0 62h1v1h-1zM2 63h2v1h-2zM2 64h1v1h-1zM2 66h2v1h-2zM0 71h1v1h-1zM0 72h1v1h-1zM7 79h1v1h-1zM2 80h1v1h-1zM5 82h1v1h-1zM6 84h1v1h-1zM3 85h1v1h-1zM6 85h1v1h-1zM6 86h1v1h-1zM6 87h1v1h-1zM2 88h1v1h-1zM2 98h1v1h-1zM5 98h1v1h-1zM7 99h1v1h-1z"/>
<path fill="#242a68" d="M7 1h1v1h-1zM7 2h1v1h-1zM4 3h1v1h-1zM7 3h1v1h-1zM4 4h1v1h-1zM7 4h1v1h-1zM7 7h1v1h-1zM7 8h1v1h-1zM7 11h1v1h-1zM4 12h1v1h-1zM7 12h1v1h-1zM4 13h1v1h-1zM7 13h1v1h-1zM7 14h1v1h-1zM7 15h1v1h-1zM4 19h1v1h-1zM1 20h1v1h-1zM4 20h1v1h-1zM1 28h1v1h-1zM1 29h1v1h-1zM7 29h1v1h-1zM1 30h1v1h-1zM4 30h2v1h-2zM1 31h1v1h-1zM6 31h1v1h-1zM1 32h1v1h-1zM1 33h1v1h-1zM6 33h1v1h-1zM1 35h1v1h-1zM6 36h1v1h-1zM0 38h1v1h-1zM3 38h1v1h-1zM4 39h2v1h-2zM0 40h1v1h-1zM1 41h1v1h-1zM5 41h1v1h-1zM1 42h1v1h-1zM4 42h4v1h-4zM6 43h1v1h-1zM6 47h1v1h-1zM1 48h1v1h-1zM6 48h1v1h-1zM4 49h1v1h-1zM5 50h1v1h-1zM6 52h1v1h-1zM1 53h1v1h-1zM4 54h2v1h-2zM5 55h1v1h-1zM4 56h3v1h-3zM1 58h1v1h-1zM5 58h1v1h-1zM5 59h1v1h-1zM5 60h1v1h-1zM6 63h1v1h-1zM6 64h1v1h-1zM6 65h1v1h-1zM6 67h1v1h-1zM4 68h1v1h-1zM6 68h1v1h-1zM1 71h1v1h-1zM5 71h1v1h-1zM1 74h2v1h-2zM5 74h2v1h-2zM0 75h2v1h-2zM5 75h2v1h-2zM0 76h4v1h-4zM0 77h1v1h-1zM5 77h1v1h-1zM3 78h1v1h-1zM0 79h2v1h-2zM1 80h1v1h-1zM0 81h2v1h-2zM2 82h1v1h-1zM4 82h1v1h-1zM4 83h1v1h-1zM4 84h1v1h-1zM7 84h1v1h-1zM2 85h1v1h-1zM4 85h1v1h-1zM1 88h1v1h-1zM5 89h1v1h-1zM0 90h2v1h-2zM3 90h1v1h-1zM0 91h1v1h-1zM2 91h1v1h-1zM0 92h1v1h-1zM3 92h1v1h-1zM1 93h1v1h-1zM1 94h1v1h-1zM3 94h1v1h-1zM7 94h1v1h-1zM0 95h1v1h-1zM2 95h1v1h-1zM0 96h3v1h-3zM4 96h1v1h-1zM0 97h2v1h-2zM3 97h2v1h-2zM1 98h1v1h-1zM4 98h1v1h-1zM6 99h1v1h-1zM6 100h1v1h-1zM0 101h1v1h-1zM6 101h1v1h-1zM0 102h4v1h-4zM1 103h3v1h-3zM0 104h1v1h-1zM2 104h1v1h-1zM4 104h1v1h-1zM0 105h1v1h-1zM3 105h1v1h-1zM7 105h1v1h-1zM0 106h5v1h-5zM3 107h1v1h-1zM3 108h2v1h-2zM0 109h1v1h-1zM4 109h1v1h-1zM1 110h1v1h-1zM4 110h1v1h-1zM0 111h1v1h-1zM3 111h1v1h-1zM4 112h1v1h-1zM1 113h1v1h-1zM4 113h1v1h-1zM1 114h1v1h-1zM4 114h3v1h-3zM1 115h1v1h-1zM4 115h3v1h-3z"/>
<path fill="#1e429c" d="M6 2h1v1h-1zM5 9h2v1h-2zM4 36h1v1h-1zM4 37h1v1h-1zM6 38h1v1h-1zM4 40h1v1h-1zM4 41h1v1h-1zM1 43h1v1h-1zM1 51h1v1h-1zM1 52h1v1h-1zM4 52h1v1h-1zM5 53h1v1h-1zM1 54h1v1h-1zM1 55h1v1h-1zM1 56h1v1h-1zM4 58h1v1h-1zM1 59h1v1h-1zM4 59h1v1h-1zM4 60h1v1h-1zM4 61h1v1h-1zM6 61h1v1h-1zM4 62h1v1h-1zM4 63h1v1h-1zM4 64h1v1h-1zM1 65h1v1h-1zM4 65h1v1h-1zM4 66h1v1h-1zM4 67h1v1h-1zM1 68h1v1h-1zM4 69h1v1h-1zM4 70h1v1h-1zM4 71h1v1h-1zM1 72h1v1h-1zM4 72h1v1h-1zM1 73h1v1h-1zM4 73h1v1h-1zM6 80h1v1h-1zM1 82h1v1h-1zM1 83h1v1h-1zM1 86h1v1h-1zM1 87h1v1h-1zM4 87h1v1h-1zM4 88h1v1h-1zM7 88h1v1h-1zM4 89h1v1h-1zM7 89h1v1h-1zM4 93h1v1h-1zM1 99h1v1h-1zM4 99h1v1h-1zM1 100h1v1h-1zM1 107h1v1h-1zM1 109h1v1h-1zM1 111h1v1h-1z"/>
<path fill="#1a1c3e" d="M7 5h1v1h-1zM7 6h1v1h-1zM4 9h1v1h-1zM7 9h1v1h-1zM7 10h1v1h-1zM1 12h1v1h-1zM1 13h1v1h-1zM7 16h1v1h-1zM1 17h1v1h-1zM5 17h1v1h-1zM7 17h1v1h-1zM1 18h1v1h-1zM7 18h1v1h-1zM1 19h1v1h-1zM7 19h1v1h-1zM7 20h1v1h-1zM1 21h1v1h-1zM7 21h1v1h-1zM1 22h1v1h-1zM7 22h1v1h-1zM1 23h1v1h-1zM7 23h1v1h-1zM7 24h1v1h-1zM7 25h1v1h-1zM7 26h1v1h-1zM7 27h1v1h-1zM4 28h1v1h-1zM7 30h1v1h-1zM7 31h1v1h-1zM6 32h2v1h-2zM7 33h1v1h-1zM1 34h1v1h-1zM7 34h1v1h-1zM6 35h2v1h-2zM6 37h1v1h-1zM1 38h1v1h-1zM4 38h2v1h-2zM1 39h1v1h-1zM1 40h1v1h-1zM0 41h1v1h-1zM2 43h2v1h-2zM5 43h1v1h-1zM0 44h1v1h-1zM4 44h1v1h-1zM5 47h1v1h-1zM0 50h1v1h-1zM6 50h1v1h-1zM0 51h1v1h-1zM5 51h2v1h-2zM4 53h1v1h-1zM6 55h1v1h-1zM7 60h1v1h-1zM1 61h1v1h-1zM7 61h1v1h-1zM7 63h1v1h-1zM5 64h1v1h-1zM5 65h1v1h-1zM5 66h2v1h-2zM5 67h1v1h-1zM7 69h1v1h-1zM5 70h3v1h-3zM6 71h2v1h-2zM6 72h1v1h-1zM5 73h2v1h-2zM0 74h1v1h-1zM3 74h1v1h-1zM3 75h1v1h-1zM5 76h3v1h-3zM0 78h1v1h-1zM2 78h1v1h-1zM2 79h1v1h-1zM3 80h1v1h-1zM3 81h1v1h-1zM2 83h1v1h-1zM0 84h1v1h-1zM2 84h1v1h-1zM4 86h1v1h-1zM5 87h1v1h-1zM5 88h1v1h-1zM1 89h1v1h-1zM1 91h1v1h-1zM4 91h2v1h-2zM1 92h2v1h-2zM4 92h2v1h-2zM7 92h1v1h-1zM7 93h1v1h-1zM7 95h1v1h-1zM2 97h1v1h-1zM7 97h1v1h-1zM0 98h1v1h-1zM6 98h2v1h-2zM0 99h1v1h-1zM3 99h1v1h-1zM4 100h1v1h-1zM1 101h1v1h-1zM4 101h1v1h-1zM7 101h1v1h-1zM4 102h1v1h-1zM6 102h1v1h-1zM0 103h1v1h-1zM4 103h1v1h-1zM6 103h1v1h-1zM3 104h1v1h-1zM7 104h1v1h-1zM1 105h2v1h-2zM4 105h1v1h-1zM0 108h3v1h-3zM5 108h1v1h-1zM6 109h1v1h-1zM0 110h1v1h-1zM3 110h1v1h-1zM6 110h1v1h-1zM2 111h1v1h-1zM6 111h1v1h-1zM0 112h4v1h-4zM5 112h2v1h-2zM2 113h2v1h-2zM5 113h2v1h-2zM0 114h1v1h-1zM2 115h2v1h-2z"/>
<path fill="#e4e21a" d="M2 10h1v1h-1zM2 39h1v1h-1zM0 42h1v1h-1zM4 74h1v1h-1zM4 75h1v1h-1zM4 76h1v1h-1zM6 91h1v1h-1zM6 92h1v1h-1zM6 94h1v1h-1zM6 96h1v1h-1zM6 97h1v1h-1zM5 102h1v1h-1zM5 103h1v1h-1zM7 109h1v1h-1zM7 111h1v1h-1zM7 113h1v1h-1zM7 114h1v1h-1zM7 115h1v1h-1z"/>
<path fill="#9a9a24" d="M0 16h1v1h-1zM2 26h1v1h-1zM2 27h1v1h-1zM3 31h1v1h-1zM3 32h1v1h-1zM3 33h1v1h-1zM3 34h1v1h-1zM3 36h1v1h-1zM7 48h1v1h-1zM7 49h1v1h-1zM7 51h1v1h-1zM2 67h1v1h-1zM2 68h1v1h-1zM2 69h1v1h-1zM2 70h1v1h-1zM2 71h1v1h-1zM3 79h1v1h-1zM3 84h1v1h-1zM2 89h1v1h-1zM2 90h1v1h-1zM5 101h1v1h-1z"/>
<path fill="#c4c21e" d="M3 35h1v1h-1zM7 38h1v1h-1zM3 40h1v1h-1zM3 41h1v1h-1zM0 43h1v1h-1zM7 44h1v1h-1zM7 45h1v1h-1zM7 46h1v1h-1zM7 47h1v1h-1zM7 52h1v1h-1zM0 73h1v1h-1zM4 77h1v1h-1zM4 78h1v1h-1zM7 81h1v1h-1zM3 87h1v1h-1zM6 93h1v1h-1zM6 95h1v1h-1zM5 100h1v1h-1zM5 104h1v1h-1zM5 105h1v1h-1zM5 106h1v1h-1zM5 107h1v1h-1zM7 108h1v1h-1zM7 110h1v1h-1zM7 112h1v1h-1z"/>
</svg>
<path fill="none" stroke="#000" stroke-width="1.8" stroke-linecap="square" d="M1515.2 62.0H1494.4V65.3H1515.2M1515.2 68.6H1505.1V71.9H1515.2M1494.4 63.6H1494.4V70.2H1505.1M1515.2 75.2H1503.7V78.5H1515.2M1494.4 66.9H1492.8V76.8H1503.7M1515.2 81.8H1495.7V85.1H1515.2M1492.8 71.9H1491.3V83.4H1495.7M1515.2 58.7H1488.0V77.7H1491.3M1515.2 88.4H1500.0V91.7H1515.2M1488.0 68.2H1479.2V90.1H1500.0M1515.2 98.3H1514.0V101.6H1515.2M1515.2 95.0H1495.8V100.0H1514.0M1515.2 104.9H1514.0V108.2H1515.2M1514.0 106.6H1498.1V111.5H1515.2M1495.8 97.5H1495.8V109.1H1498.1M1515.2 118.2H1503.4V121.5H1515.2M1503.4 119.8H1501.6V124.8H1515.2M1515.2 131.4H1504.9V134.7H1515.2M1515.2 128.1H1503.4V133.0H1504.9M1501.6 122.3H1501.6V130.6H1503.4M1515.2 114.9H1493.2V126.4H1501.6M1495.8 103.3H1492.4V120.6H1493.2M1515.2 138.0H1504.9V141.3H1515.2M1515.2 144.6H1499.9V147.9H1515.2M1504.9 139.7H1498.2V146.3H1499.9M1492.4 112.0H1490.6V143.0H1498.2M1515.2 154.5H1495.9V157.8H1515.2M1515.2 151.2H1487.2V156.2H1495.9M1490.6 127.5H1487.2V153.7H1487.2M1515.2 164.4H1498.6V167.8H1515.2M1515.2 161.1H1498.6V166.1H1498.6M1498.6 163.6H1496.1V171.1H1515.2M1496.1 167.3H1494.7V174.4H1515.2M1515.2 177.7H1491.3V181.0H1515.2M1494.7 170.9H1479.0V179.3H1491.3M1487.2 140.6H1474.0V175.1H1479.0M1479.2 79.1H1460.5V157.8H1474.0M1515.2 184.3H1471.0V187.6H1515.2M1515.2 190.9H1489.0V194.2H1515.2M1471.0 185.9H1453.6V192.5H1489.0M1460.5 118.5H1438.1V189.2H1453.6M1515.2 207.4H1504.5V210.7H1515.2M1504.5 209.1H1493.2V214.0H1515.2M1493.2 211.6H1493.2V217.3H1515.2M1493.2 214.4H1491.9V220.6H1515.2M1515.2 204.1H1490.2V217.5H1491.9M1515.2 224.0H1489.6V227.3H1515.2M1489.6 225.6H1484.3V230.6H1515.2M1490.2 210.8H1482.0V228.1H1484.3M1482.0 219.5H1474.4V233.9H1515.2M1515.2 240.5H1497.2V243.8H1515.2M1497.2 242.1H1493.3V247.1H1515.2M1515.2 237.2H1490.6V244.6H1493.3M1490.6 240.9H1485.3V250.4H1515.2M1485.3 245.7H1482.1V253.7H1515.2M1515.2 260.3H1486.4V263.6H1515.2M1515.2 270.2H1498.1V273.5H1515.2M1515.2 276.9H1495.5V280.2H1515.2M1498.1 271.9H1494.4V278.5H1495.5M1494.4 275.2H1486.1V283.5H1515.2M1515.2 266.9H1485.9V279.3H1486.1M1515.2 290.1H1493.3V293.4H1515.2M1515.2 286.8H1485.6V291.7H1493.3M1485.9 273.1H1483.7V289.2H1485.6M1515.2 296.7H1493.1V300.0H1515.2M1483.7 281.2H1480.1V298.3H1493.1M1486.4 262.0H1478.1V289.8H1480.1M1515.2 257.0H1477.7V275.9H1478.1M1482.1 249.7H1477.7V266.4H1477.7M1474.4 226.7H1472.4V258.1H1477.7M1515.2 200.8H1456.0V242.4H1472.4M1456.0 221.6H1446.0V303.3H1515.2M1515.2 197.5H1441.3V262.4H1446.0M1438.1 153.9H1424.3V230.0H1441.3M1515.2 306.6H1477.1V309.9H1515.2M1477.1 308.3H1468.1V313.2H1515.2M1468.1 310.7H1465.6V316.5H1515.2M1515.2 323.1H1483.9V326.4H1515.2M1515.2 319.8H1465.6V324.8H1483.9M1465.6 313.6H1439.2V322.3H1465.6M1424.3 191.9H1408.0V318.0H1439.2M1515.2 329.7H1482.8V333.1H1515.2M1515.2 336.4H1483.8V339.7H1515.2M1483.8 338.0H1472.5V343.0H1515.2M1482.8 331.4H1463.1V340.5H1472.5M1515.2 349.6H1478.8V352.9H1515.2M1515.2 346.3H1455.2V351.2H1478.8M1463.1 335.9H1443.0V348.8H1455.2M1515.2 359.5H1492.6V362.8H1515.2M1492.6 361.2H1465.5V366.1H1515.2M1515.2 372.7H1483.7V376.0H1515.2M1515.2 369.4H1478.7V374.4H1483.7M1465.5 363.6H1465.5V371.9H1478.7M1515.2 356.2H1459.0V367.8H1465.5M1443.0 342.4H1431.2V362.0H1459.0M1515.2 382.6H1458.4V386.0H1515.2M1515.2 389.3H1469.8V392.6H1515.2M1515.2 395.9H1496.3V399.2H1515.2M1515.2 405.8H1482.6V409.1H1515.2M1515.2 402.5H1481.5V407.4H1482.6M1496.3 397.5H1473.9V405.0H1481.5M1469.8 390.9H1460.2V401.2H1473.9M1458.4 384.3H1454.5V396.1H1460.2M1515.2 379.3H1448.5V390.2H1454.5M1515.2 419.0H1493.8V422.3H1515.2M1493.8 420.7H1491.7V425.6H1515.2M1515.2 428.9H1499.3V432.2H1515.2M1515.2 435.5H1491.1V438.8H1515.2M1499.3 430.6H1491.1V437.2H1491.1M1491.7 423.1H1487.8V433.9H1491.1M1515.2 415.7H1483.4V428.5H1487.8M1515.2 412.4H1467.5V422.1H1483.4M1448.5 384.8H1419.2V417.3H1467.5M1431.2 352.2H1415.2V401.0H1419.2M1408.0 254.9H1402.9V376.6H1415.2"/>
<g font-size="2.90" fill="#333">
<text x="1895.5" y="59.67">GQ_9O2V2</text>
<text x="1895.5" y="62.97">ERG_FLV</text>
<text x="1895.5" y="66.28">CKHL_MB0Y</text>
<text x="1895.5" y="69.59">XQG_RVD5R</text>
<text x="1895.5" y="72.89">LEVQ_FRP</text>
<text x="1895.5" y="76.20">MUO_TBIC1</text>
<text x="1895.5" y="79.50">YZPS_AEZ73</text>
<text x="1895.5" y="82.81">HZD_JJ7</text>
<text x="1895.5" y="86.12">DXWU_F9CAI</text>
<text x="1895.5" y="89.42">SB_IQ71</text>
<text x="1895.5" y="92.73">YDDC_7MYQ</text>
<text x="1895.5" y="96.03">ZT_A8</text>
<text x="1895.5" y="99.34">OIK_47P</text>
<text x="1895.5" y="102.65">HANW_DBM5</text>
<text x="1895.5" y="105.95">UNCI_1XO</text>
<text x="1895.5" y="109.26">BWK_XZMAS</text>
<text x="1895.5" y="112.56">QCGP_TMO</text>
<text x="1895.5" y="115.87">HIY_G5LO</text>
<text x="1895.5" y="119.18">NVB_ZDN</text>
<text x="1895.5" y="122.48">TE_DDLZ2</text>
<text x="1895.5" y="125.79">KXDC_VML</text>
<text x="1895.5" y="129.09">QXOB_YXV2</text>
<text x="1895.5" y="132.40">DA_RF</text>
<text x="1895.5" y="135.71">NDR_YWT</text>
<text x="1895.5" y="139.01">CBW_MX82M</text>
<text x="1895.5" y="142.32">LXP_0P</text>
<text x="1895.5" y="145.62">YMBM_3E</text>
<text x="1895.5" y="148.93">IG_VX</text>
<text x="1895.5" y="152.24">KTB_URTA</text>
<text x="1895.5" y="155.54">YTZU_BO</text>
<text x="1895.5" y="158.85">PW_YQ15I</text>
<text x="1895.5" y="162.16">FAZ_JPUU</text>
<text x="1895.5" y="165.46">LZZ_6M</text>
<text x="1895.5" y="168.77">YFH_EC498</text>
<text x="1895.5" y="172.07">FND_QF</text>
<text x="1895.5" y="175.38">DN_2LOI0</text>
<text x="1895.5" y="178.69">TVH_SS</text>
<text x="1895.5" y="181.99">SIL_QM2P</text>
<text x="1895.5" y="185.30">HH_SMU</text>
<text x="1895.5" y="188.60">MI_67O</text>
<text x="1895.5" y="191.91">ZDUO_GA</text>
<text x="1895.5" y="195.22">HOL_SO</text>
<text x="1895.5" y="198.52">BG_EX6</text>
<text x="1895.5" y="201.83">OT_AGWN</text>
<text x="1895.5" y="205.13">LK_CNQ</text>
<text x="1895.5" y="208.44">TX_AU0</text>
<text x="1895.5" y="211.75">LFTJ_NC</text>
<text x="1895.5" y="215.05">RPC_GZ9J8</text>
<text x="1895.5" y="218.36">UF_R0ST0</text>
<text x="1895.5" y="221.66">JX_00BX</text>
<text x="1895.5" y="224.97">GMXM_A1K</text>
<text x="1895.5" y="228.28">DCM_3KIA</text>
<text x="1895.5" y="231.58">RE_FX6KJ</text>
<text x="1895.5" y="234.89">JFQ_EGY</text>
<text x="1895.5" y="238.19">YZZ_TIC</text>
<text x="1895.5" y="241.50">KBT_FKOZM</text>
<text x="1895.5" y="244.81">FSG_Z7</text>
<text x="1895.5" y="248.11">ML_JP</text>
<text x="1895.5" y="251.42">GBRY_UH</text>
<text x="1895.5" y="254.72">TOR_0TP1</text>
<text x="1895.5" y="258.03">VLO_LBA53</text>
<text x="1895.5" y="261.34">OY_L4ZGE</text>
<text x="1895.5" y="264.64">LN_F266</text>
<text x="1895.5" y="267.95">BBUE_U6</text>
<text x="1895.5" y="271.25">BY_IBEHM</text>
<text x="1895.5" y="274.56">PJ_OEW</text>
<text x="1895.5" y="277.87">YIFK_3JQ6</text>
<text x="1895.5" y="281.17">GSI_UXC</text>
<text x="1895.5" y="284.48">FM_RUY</text>
<text x="1895.5" y="287.78">ZZ_H7DX</text>
<text x="1895.5" y="291.09">RQS_Q8</text>
<text x="1895.5" y="294.40">MXZL_YXJX</text>
<text x="1895.5" y="297.70">YCO_LDS</text>
<text x="1895.5" y="301.01">IJUS_ACOJ</text>
<text x="1895.5" y="304.31">TUN_6XDI5</text>
<text x="1895.5" y="307.62">TU_BD</text>
<text x="1895.5" y="310.93">SL_G7W8</text>
<text x="1895.5" y="314.23">NS_INX4</text>
<text x="1895.5" y="317.54">EA_J2G</text>
<text x="1895.5" y="320.84">UE_ZQAD</text>
<text x="1895.5" y="324.15">RLTU_75PKA</text>
<text x="1895.5" y="327.46">BR_ZL</text>
<text x="1895.5" y="330.76">FB_A9</text>
<text x="1895.5" y="334.07">GENG_L6TET</text>
<text x="1895.5" y="337.37">BXZP_Y1</text>
<text x="1895.5" y="340.68">OCXU_LOGQO</text>
<text x="1895.5" y="343.99">BDKX_DR91</text>
<text x="1895.5" y="347.29">ZQIJ_F6A</text>
<text x="1895.5" y="350.60">IH_KUM</text>
<text x="1895.5" y="353.91">KTH_8447A</text>
<text x="1895.5" y="357.21">NX_TNZ</text>
<text x="1895.5" y="360.52">SCSF_CBH</text>
<text x="1895.5" y="363.82">TF_JBBC</text>
<text x="1895.5" y="367.13">WU_EC</text>
<text x="1895.5" y="370.44">SY_M8EY</text>
<text x="1895.5" y="373.74">HG_HCC</text>
<text x="1895.5" y="377.05">CYUU_4GIG</text>
<text x="1895.5" y="380.35">GJKK_QBWQS</text>
<text x="1895.5" y="383.66">WY_U64S</text>
<text x="1895.5" y="386.97">XAZN_17</text>
<text x="1895.5" y="390.27">LP_8N</text>
<text x="1895.5" y="393.58">CSJF_A7MSD</text>
<text x="1895.5" y="396.88">LP_5L</text>
<text x="1895.5" y="400.19">SLQ_KSNO</text>
<text x="1895.5" y="403.50">FDU_59</text>
<text x="1895.5" y="406.80">UK_GZZF</text>
<text x="1895.5" y="410.11">UAL_TQ1</text>
<text x="1895.5" y="413.41">QFMU_3I8</text>
<text x="1895.5" y="416.72">YWYT_WU</text>
<text x="1895.5" y="420.03">EOVR_K32Q</text>
<text x="1895.5" y="423.33">HEKO_6MR</text>
<text x="1895.5" y="426.64">YWT_JPU</text>
<text x="1895.5" y="429.94">QLFH_MQGK</text>
<text x="1895.5" y="433.25">DGME_TT1</text>
<text x="1895.5" y="436.56">GDU_RN</text>
<text x="1895.5" y="439.86">OBA_1O6S3</text>
</g>
<text x="0" y="0" font-size="29.2" text-anchor="end" stroke="#000" stroke-width="0.3" transform="translate(1552.1 456.5) rotate(-45)">Tumour_1</text>
<text x="0" y="0" font-size="29.2" text-anchor="end" stroke="#000" stroke-width="0.3" transform="translate(1605.2 457.9) rotate(-45)">Tumour_2</text>
<text x="0" y="0" font-size="29.2" text-anchor="end" stroke="#000" stroke-width="0.3" transform="translate(1651.2 458.5) rotate(-45)">Tumour_3</text>
<text x="0" y="0" font-size="29.2" text-anchor="end" stroke="#000" stroke-width="0.3" transform="translate(1696.8 457.9) rotate(-45)">Tumour_4</text>
<text x="0" y="0" font-size="29.2" text-anchor="end" stroke="#000" stroke-width="0.3" transform="translate(1738.9 456.5) rotate(-45)">Lungs_1</text>
<text x="0" y="0" font-size="29.2" text-anchor="end" stroke="#000" stroke-width="0.3" transform="translate(1788.3 457.9) rotate(-45)">Lungs_2</text>
<text x="0" y="0" font-size="29.2" text-anchor="end" stroke="#000" stroke-width="0.3" transform="translate(1833.7 457.9) rotate(-45)">Lungs_4</text>
<text x="0" y="0" font-size="29.2" text-anchor="end" stroke="#000" stroke-width="0.3" transform="translate(1880.6 458.5) rotate(-45)">Lungs_3</text>
<svg x="122.00" y="628.40" width="384.20" height="384.00" viewBox="0 0 8 96" preserveAspectRatio="none">
<rect width="8" height="96" fill="#242c70"/>
<path fill="#28368a" d="M0 0h1v1h-1zM1 1h1v1h-1zM1 5h1v1h-1zM0 9h2v1h-2zM4 9h1v1h-1zM4 11h1v1h-1zM0 12h1v1h-1zM2 12h1v1h-1zM4 12h1v1h-1zM1 16h1v1h-1zM1 25h1v1h-1zM1 28h1v1h-1zM1 32h1v1h-1zM4 32h1v1h-1zM2 38h1v1h-1zM1 42h1v1h-1zM1 50h1v1h-1zM0 51h1v1h-1zM1 53h1v1h-1zM4 53h1v1h-1zM1 54h1v1h-1zM0 56h1v1h-1zM3 57h1v1h-1zM1 58h1v1h-1zM3 58h2v1h-2zM1 59h3v1h-3zM2 60h1v1h-1zM1 61h1v1h-1zM3 61h1v1h-1zM1 62h1v1h-1zM1 63h1v1h-1zM4 63h1v1h-1zM2 64h1v1h-1zM5 65h1v1h-1zM5 67h2v1h-2zM5 68h3v1h-3zM5 69h1v1h-1zM0 72h1v1h-1zM7 73h1v1h-1zM0 74h1v1h-1zM5 74h1v1h-1zM0 75h1v1h-1zM5 75h1v1h-1zM6 76h1v1h-1zM5 77h1v1h-1zM5 78h2v1h-2zM0 79h1v1h-1zM6 79h1v1h-1zM5 80h1v1h-1zM6 81h1v1h-1zM6 82h1v1h-1zM5 83h2v1h-2zM5 84h2v1h-2zM6 85h1v1h-1zM6 86h1v1h-1zM6 87h1v1h-1zM0 88h1v1h-1zM6 88h1v1h-1zM0 89h1v1h-1zM0 91h1v1h-1zM5 92h1v1h-1zM0 93h1v1h-1zM0 94h1v1h-1z"/>
<path fill="#242a68" d="M1 0h1v1h-1zM5 0h1v1h-1zM5 3h1v1h-1zM1 4h1v1h-1zM5 4h1v1h-1zM1 6h1v1h-1zM1 8h1v1h-1zM0 10h2v1h-2zM0 11h2v1h-2zM2 13h1v1h-1zM4 13h1v1h-1zM0 14h1v1h-1zM1 15h1v1h-1zM1 17h1v1h-1zM4 19h1v1h-1zM3 20h1v1h-1zM1 21h1v1h-1zM3 21h1v1h-1zM2 22h1v1h-1zM1 24h2v1h-2zM1 26h1v1h-1zM1 27h2v1h-2zM6 28h1v1h-1zM1 29h1v1h-1zM6 29h1v1h-1zM1 30h2v1h-2zM2 31h1v1h-1zM4 31h1v1h-1zM6 31h1v1h-1zM3 32h1v1h-1zM2 33h1v1h-1zM0 34h1v1h-1zM6 34h1v1h-1zM0 35h1v1h-1zM2 35h1v1h-1zM2 36h2v1h-2zM6 36h1v1h-1zM0 38h1v1h-1zM2 39h1v1h-1zM4 39h1v1h-1zM0 40h1v1h-1zM2 40h1v1h-1zM4 40h1v1h-1zM1 41h4v1h-4zM0 42h1v1h-1zM0 43h2v1h-2zM3 43h1v1h-1zM0 44h3v1h-3zM4 44h1v1h-1zM1 46h2v1h-2zM1 47h1v1h-1zM0 49h1v1h-1zM3 49h3v1h-3zM0 50h1v1h-1zM3 50h1v1h-1zM5 50h1v1h-1zM5 51h1v1h-1zM7 51h1v1h-1zM3 52h1v1h-1zM2 53h2v1h-2zM2 54h3v1h-3zM2 55h1v1h-1zM1 56h1v1h-1zM3 56h2v1h-2zM2 57h1v1h-1zM4 57h1v1h-1zM2 58h1v1h-1zM0 60h1v1h-1zM2 61h1v1h-1zM0 62h1v1h-1zM3 62h2v1h-2zM2 63h2v1h-2zM7 64h1v1h-1zM5 66h2v1h-2zM7 67h1v1h-1zM6 69h1v1h-1zM6 70h1v1h-1zM6 71h1v1h-1zM5 72h3v1h-3zM0 73h1v1h-1zM6 73h1v1h-1zM6 74h1v1h-1zM5 76h1v1h-1zM0 80h1v1h-1zM6 80h2v1h-2zM0 81h1v1h-1zM5 81h1v1h-1zM7 83h1v1h-1zM7 84h1v1h-1zM5 85h1v1h-1zM5 86h1v1h-1zM7 87h1v1h-1zM5 88h1v1h-1zM7 88h1v1h-1zM6 89h2v1h-2zM6 90h2v1h-2zM5 91h2v1h-2zM0 92h1v1h-1zM6 92h1v1h-1zM5 93h3v1h-3zM7 94h1v1h-1zM5 95h3v1h-3z"/>
<path fill="#1a1c3e" d="M2 0h1v1h-1zM5 1h1v1h-1zM1 2h1v1h-1zM1 3h1v1h-1zM6 3h1v1h-1zM5 6h1v1h-1zM1 7h1v1h-1zM4 7h3v1h-3zM2 10h1v1h-1zM5 10h2v1h-2zM1 13h1v1h-1zM1 14h1v1h-1zM4 14h1v1h-1zM2 15h2v1h-2zM3 17h2v1h-2zM2 18h1v1h-1zM4 18h1v1h-1zM6 18h1v1h-1zM1 19h1v1h-1zM6 19h1v1h-1zM1 20h1v1h-1zM4 20h1v1h-1zM1 23h2v1h-2zM3 24h1v1h-1zM6 24h1v1h-1zM2 25h1v1h-1zM2 26h1v1h-1zM3 27h1v1h-1zM6 27h1v1h-1zM3 30h3v1h-3zM1 31h1v1h-1zM2 32h1v1h-1zM1 33h1v1h-1zM3 33h1v1h-1zM0 36h1v1h-1zM5 36h1v1h-1zM2 37h1v1h-1zM5 37h2v1h-2zM1 38h1v1h-1zM4 38h1v1h-1zM6 38h1v1h-1zM0 39h2v1h-2zM3 39h1v1h-1zM5 39h2v1h-2zM1 40h1v1h-1zM3 40h1v1h-1zM5 40h1v1h-1zM0 41h1v1h-1zM3 42h1v1h-1zM2 43h1v1h-1zM4 43h1v1h-1zM3 44h1v1h-1zM1 45h2v1h-2zM4 45h1v1h-1zM5 46h1v1h-1zM3 47h1v1h-1zM5 47h1v1h-1zM1 48h2v1h-2zM5 48h1v1h-1zM1 49h1v1h-1zM3 51h2v1h-2zM6 52h2v1h-2zM5 54h1v1h-1zM0 55h2v1h-2zM3 55h2v1h-2zM7 55h1v1h-1zM1 57h1v1h-1zM4 59h1v1h-1zM1 60h1v1h-1zM0 61h1v1h-1zM4 61h1v1h-1zM2 62h1v1h-1zM0 63h1v1h-1zM0 64h1v1h-1zM3 64h1v1h-1zM5 64h2v1h-2zM6 65h2v1h-2zM5 70h1v1h-1zM5 71h1v1h-1zM7 71h1v1h-1zM5 73h1v1h-1zM7 74h1v1h-1zM6 75h2v1h-2zM7 76h1v1h-1zM6 77h2v1h-2zM5 79h1v1h-1zM7 81h1v1h-1zM5 82h1v1h-1zM0 84h1v1h-1zM7 85h1v1h-1zM5 87h1v1h-1zM5 90h1v1h-1zM1 91h1v1h-1zM1 92h1v1h-1zM5 94h1v1h-1z"/>
<path fill="#56561c" d="M3 0h1v1h-1zM3 1h2v1h-2zM2 5h1v1h-1zM6 5h2v1h-2zM7 6h1v1h-1zM2 7h2v1h-2zM2 8h1v1h-1zM7 11h1v1h-1zM3 13h1v1h-1zM7 14h1v1h-1zM5 16h2v1h-2zM6 17h2v1h-2zM5 18h1v1h-1zM5 24h1v1h-1zM4 25h1v1h-1zM7 26h1v1h-1zM3 28h1v1h-1zM5 28h1v1h-1zM7 28h1v1h-1zM7 29h1v1h-1zM5 31h1v1h-1zM2 34h1v1h-1zM4 35h1v1h-1zM7 35h1v1h-1zM5 44h2v1h-2zM6 48h1v1h-1zM2 50h1v1h-1zM0 52h1v1h-1zM7 53h1v1h-1zM7 56h1v1h-1zM5 57h1v1h-1zM5 58h1v1h-1zM7 58h1v1h-1zM7 59h1v1h-1zM6 62h1v1h-1zM6 63h1v1h-1zM1 65h1v1h-1zM4 66h1v1h-1zM1 68h1v1h-1zM3 68h1v1h-1zM2 69h3v1h-3zM4 71h1v1h-1zM2 74h2v1h-2zM3 75h2v1h-2zM2 76h1v1h-1zM3 77h2v1h-2zM2 78h2v1h-2zM2 79h2v1h-2zM2 81h1v1h-1zM4 82h1v1h-1zM3 83h1v1h-1zM2 84h1v1h-1zM2 86h1v1h-1zM1 87h2v1h-2zM2 91h1v1h-1zM3 93h1v1h-1zM2 95h1v1h-1z"/>
<path fill="#323216" d="M4 0h1v1h-1zM6 0h1v1h-1zM3 2h1v1h-1zM3 3h1v1h-1zM2 4h3v1h-3zM3 6h2v1h-2zM3 8h1v1h-1zM5 8h1v1h-1zM4 10h1v1h-1zM5 11h1v1h-1zM7 13h1v1h-1zM3 14h1v1h-1zM3 16h2v1h-2zM2 17h1v1h-1zM5 20h2v1h-2zM2 21h1v1h-1zM5 21h2v1h-2zM4 22h1v1h-1zM4 23h1v1h-1zM4 24h1v1h-1zM5 25h1v1h-1zM3 29h1v1h-1zM0 33h1v1h-1zM5 34h1v1h-1zM5 35h1v1h-1zM4 36h1v1h-1zM6 40h1v1h-1zM5 42h1v1h-1zM5 43h2v1h-2zM3 45h1v1h-1zM5 45h2v1h-2zM3 46h2v1h-2zM4 47h1v1h-1zM6 47h1v1h-1zM4 48h1v1h-1zM2 51h1v1h-1zM6 51h1v1h-1zM2 52h1v1h-1zM7 54h1v1h-1zM5 55h1v1h-1zM7 57h1v1h-1zM5 59h1v1h-1zM6 60h1v1h-1zM3 65h2v1h-2zM4 67h1v1h-1zM1 69h1v1h-1zM7 69h1v1h-1zM2 71h1v1h-1zM3 72h1v1h-1zM4 73h1v1h-1zM3 76h1v1h-1zM1 80h1v1h-1zM4 80h1v1h-1zM4 81h1v1h-1zM3 82h1v1h-1zM1 84h1v1h-1zM2 85h1v1h-1zM4 85h1v1h-1zM1 86h1v1h-1zM4 86h1v1h-1zM1 88h1v1h-1zM1 90h2v1h-2zM3 92h1v1h-1zM1 93h2v1h-2z"/>
<path fill="#787822" d="M7 0h1v1h-1zM7 1h1v1h-1zM6 6h1v1h-1zM7 7h1v1h-1zM7 8h1v1h-1zM6 9h2v1h-2zM7 10h1v1h-1zM6 11h1v1h-1zM6 12h1v1h-1zM6 13h1v1h-1zM6 15h1v1h-1zM5 17h1v1h-1zM5 19h1v1h-1zM7 21h1v1h-1zM5 23h1v1h-1zM7 23h1v1h-1zM7 27h1v1h-1zM5 32h1v1h-1zM7 34h1v1h-1zM7 42h1v1h-1zM6 46h1v1h-1zM6 53h1v1h-1zM0 54h1v1h-1zM6 57h1v1h-1zM6 58h1v1h-1zM6 59h1v1h-1zM5 61h1v1h-1zM5 62h1v1h-1zM7 62h1v1h-1zM5 63h1v1h-1zM7 63h1v1h-1zM1 66h2v1h-2zM1 67h2v1h-2zM2 68h1v1h-1zM4 68h1v1h-1zM4 70h1v1h-1zM1 71h1v1h-1zM4 72h1v1h-1zM4 74h1v1h-1zM2 75h1v1h-1zM4 76h1v1h-1zM2 77h1v1h-1zM4 78h1v1h-1zM4 79h1v1h-1zM2 80h2v1h-2zM3 81h1v1h-1zM3 84h2v1h-2zM3 86h1v1h-1zM3 87h1v1h-1zM4 88h1v1h-1zM4 89h1v1h-1zM3 90h2v1h-2zM3 91h2v1h-2zM3 94h1v1h-1zM3 95h1v1h-1z"/>
<path fill="#1e429c" d="M0 1h1v1h-1zM0 2h1v1h-1zM0 3h1v1h-1zM0 4h1v1h-1zM0 5h1v1h-1zM0 6h1v1h-1zM0 7h1v1h-1zM0 8h1v1h-1zM2 11h1v1h-1zM0 13h1v1h-1zM2 14h1v1h-1zM0 15h1v1h-1zM0 16h1v1h-1zM0 17h1v1h-1zM0 18h1v1h-1zM0 19h1v1h-1zM0 20h1v1h-1zM0 21h1v1h-1zM0 22h1v1h-1zM0 23h1v1h-1zM0 24h1v1h-1zM0 25h1v1h-1zM0 26h1v1h-1zM0 27h1v1h-1zM0 28h1v1h-1zM0 29h1v1h-1zM6 33h1v1h-1zM1 34h1v1h-1zM3 35h1v1h-1zM0 37h1v1h-1zM0 45h1v1h-1zM0 46h1v1h-1zM0 47h1v1h-1zM0 48h1v1h-1zM4 52h1v1h-1zM3 60h1v1h-1zM0 65h1v1h-1zM0 66h1v1h-1zM0 67h1v1h-1zM0 68h1v1h-1zM0 69h1v1h-1zM0 70h1v1h-1zM0 71h1v1h-1zM0 76h1v1h-1zM0 77h1v1h-1zM0 78h1v1h-1zM0 82h1v1h-1zM0 83h1v1h-1zM0 85h1v1h-1zM0 86h1v1h-1zM0 87h1v1h-1zM0 90h1v1h-1zM0 95h1v1h-1z"/>
<path fill="#0a0b14" d="M2 1h1v1h-1zM6 1h1v1h-1zM2 2h1v1h-1zM4 2h3v1h-3zM2 3h1v1h-1zM4 3h1v1h-1zM6 4h1v1h-1zM3 5h3v1h-3zM2 6h1v1h-1zM4 8h1v1h-1zM6 8h1v1h-1zM2 9h2v1h-2zM5 9h1v1h-1zM3 11h1v1h-1zM1 12h1v1h-1zM3 12h1v1h-1zM5 12h1v1h-1zM6 14h1v1h-1zM4 15h1v1h-1zM7 15h1v1h-1zM2 16h1v1h-1zM7 16h1v1h-1zM1 18h1v1h-1zM3 18h1v1h-1zM2 19h2v1h-2zM2 20h1v1h-1zM4 21h1v1h-1zM1 22h1v1h-1zM3 22h1v1h-1zM5 22h2v1h-2zM3 23h1v1h-1zM6 23h1v1h-1zM3 25h1v1h-1zM6 25h1v1h-1zM3 26h2v1h-2zM6 26h1v1h-1zM4 27h1v1h-1zM2 28h1v1h-1zM4 28h1v1h-1zM2 29h1v1h-1zM4 29h1v1h-1zM0 30h1v1h-1zM6 30h1v1h-1zM0 31h1v1h-1zM3 31h1v1h-1zM0 32h1v1h-1zM6 32h1v1h-1zM4 33h2v1h-2zM3 34h2v1h-2zM1 35h1v1h-1zM6 35h1v1h-1zM1 36h1v1h-1zM1 37h1v1h-1zM3 37h2v1h-2zM3 38h1v1h-1zM5 38h1v1h-1zM5 41h1v1h-1zM2 42h1v1h-1zM4 42h1v1h-1zM2 47h1v1h-1zM3 48h1v1h-1zM2 49h1v1h-1zM4 50h1v1h-1zM6 50h1v1h-1zM1 51h1v1h-1zM1 52h1v1h-1zM5 53h1v1h-1zM2 56h1v1h-1zM5 56h1v1h-1zM0 57h1v1h-1zM0 58h1v1h-1zM0 59h1v1h-1zM4 60h1v1h-1zM6 61h1v1h-1zM1 64h1v1h-1zM3 66h1v1h-1zM7 66h1v1h-1zM3 67h1v1h-1zM1 70h3v1h-3zM7 70h1v1h-1zM3 71h1v1h-1zM1 72h1v1h-1zM1 73h1v1h-1zM3 73h1v1h-1zM1 74h1v1h-1zM1 75h1v1h-1zM1 76h1v1h-1zM1 77h1v1h-1zM1 78h1v1h-1zM7 78h1v1h-1zM1 79h1v1h-1zM7 79h1v1h-1zM1 81h1v1h-1zM1 82h1v1h-1zM7 82h1v1h-1zM1 83h2v1h-2zM1 85h1v1h-1zM7 86h1v1h-1zM4 87h1v1h-1zM2 88h1v1h-1zM1 89h2v1h-2zM5 89h1v1h-1zM7 91h1v1h-1zM2 92h1v1h-1zM7 92h1v1h-1zM1 94h2v1h-2zM6 94h1v1h-1zM1 95h1v1h-1z"/>
<path fill="#c4c21e" d="M7 2h1v1h-1zM7 3h1v1h-1zM3 10h1v1h-1zM7 12h1v1h-1zM5 14h1v1h-1zM5 15h1v1h-1zM7 20h1v1h-1zM7 30h1v1h-1zM7 31h1v1h-1zM7 32h1v1h-1zM7 36h1v1h-1zM7 41h1v1h-1zM7 43h1v1h-1zM7 45h1v1h-1zM7 47h1v1h-1zM7 48h1v1h-1zM7 50h1v1h-1zM5 52h1v1h-1zM0 53h1v1h-1zM6 54h1v1h-1zM6 56h1v1h-1zM5 60h1v1h-1zM7 61h1v1h-1zM2 65h1v1h-1zM2 72h1v1h-1zM3 88h1v1h-1zM4 92h1v1h-1zM4 93h1v1h-1zM4 94h1v1h-1z"/>
<path fill="#9a9a24" d="M7 4h1v1h-1zM5 13h1v1h-1zM7 18h1v1h-1zM7 19h1v1h-1zM7 22h1v1h-1zM7 24h1v1h-1zM7 25h1v1h-1zM5 26h1v1h-1zM5 27h1v1h-1zM5 29h1v1h-1zM7 33h1v1h-1zM6 41h1v1h-1zM6 42h1v1h-1zM7 44h1v1h-1zM7 46h1v1h-1zM6 49h2v1h-2zM7 60h1v1h-1zM2 73h1v1h-1zM2 82h1v1h-1zM4 83h1v1h-1zM3 85h1v1h-1zM3 89h1v1h-1zM4 95h1v1h-1z"/>
<path fill="#e4e21a" d="M7 37h1v1h-1zM7 38h1v1h-1zM7 39h1v1h-1zM7 40h1v1h-1zM6 55h1v1h-1zM4 64h1v1h-1z"/>
</svg>
<path fill="none" stroke="#000" stroke-width="1.9" stroke-linecap="square" d="M118.3 629.4H85.9V631.4H118.3M118.3 633.4H85.8V635.4H118.3M85.9 630.4H70.6V634.4H85.8M118.3 637.4H78.7V639.4H118.3M118.3 641.4H91.2V643.4H118.3M118.3 645.4H85.6V647.4H118.3M91.2 642.4H79.8V646.4H85.6M78.7 638.4H69.6V644.4H79.8M70.6 632.4H65.9V641.4H69.6M118.3 649.4H94.8V651.4H118.3M118.3 653.4H95.0V655.4H118.3M94.8 650.4H67.4V654.4H95.0M65.9 636.9H58.0V652.4H67.4M118.3 657.4H81.6V659.4H118.3M118.3 661.4H97.4V663.4H118.3M81.6 658.4H60.2V662.4H97.4M58.0 644.6H57.2V660.4H60.2M118.3 665.4H85.2V667.4H118.3M57.2 652.5H44.7V666.4H85.2M118.3 669.4H90.4V671.4H118.3M44.7 659.5H43.6V670.4H90.4M118.3 673.4H90.2V675.4H118.3M118.3 677.4H95.8V679.4H118.3M90.2 674.4H58.1V678.4H95.8M118.3 681.4H94.3V683.4H118.3M118.3 685.4H88.8V687.4H118.3M94.3 682.4H59.1V686.4H88.8M58.1 676.4H49.2V684.4H59.1M118.3 689.4H90.5V691.4H118.3M118.3 693.4H94.9V695.4H118.3M90.5 690.4H59.9V694.4H94.9M118.3 697.4H89.3V699.4H118.3M59.9 692.4H52.1V698.4H89.3M118.3 701.4H100.4V703.4H118.3M118.3 705.4H88.9V707.4H118.3M100.4 702.4H72.7V706.4H88.9M118.3 709.4H94.1V711.4H118.3M118.3 713.4H87.8V715.4H118.3M94.1 710.4H76.1V714.4H87.8M72.7 704.4H51.7V712.4H76.1M118.3 717.4H95.4V719.4H118.3M118.3 721.4H89.9V723.4H118.3M118.3 725.4H89.5V727.4H118.3M89.9 722.4H73.8V726.4H89.5M95.4 718.4H72.0V724.4H73.8M51.7 708.4H51.7V721.4H72.0M52.1 695.4H43.5V714.9H51.7M49.2 680.4H38.2V705.1H43.5M43.6 664.9H35.8V692.8H38.2M118.3 729.4H99.5V731.4H118.3M118.3 733.4H93.9V735.4H118.3M118.3 737.4H102.0V739.4H118.3M93.9 734.4H86.2V738.4H102.0M118.3 741.4H100.3V743.4H118.3M118.3 745.4H102.7V747.4H118.3M100.3 742.4H85.8V746.4H102.7M86.2 736.4H77.4V744.4H85.8M99.5 730.4H74.7V740.4H77.4M118.3 749.4H96.8V751.4H118.3M118.3 753.4H94.5V755.4H118.3M118.3 757.4H96.6V759.4H118.3M94.5 754.4H74.3V758.4H96.6M96.8 750.4H69.7V756.4H74.3M118.3 761.4H95.9V763.4H118.3M69.7 753.4H68.2V762.4H95.9M74.7 735.4H54.6V757.9H68.2M118.3 765.4H93.2V767.4H118.3M118.3 769.4H94.2V771.4H118.3M118.3 773.4H86.4V775.4H118.3M94.2 770.4H62.6V774.4H86.4M118.3 777.4H98.4V779.4H118.3M118.3 781.4H94.7V783.4H118.3M118.3 785.4H95.4V787.4H118.3M118.3 789.4H92.6V791.4H118.3M95.4 786.4H81.1V790.4H92.6M94.7 782.4H77.7V788.4H81.1M98.4 778.4H69.1V785.4H77.7M118.3 793.4H92.5V795.4H118.3M118.3 797.4H101.7V799.4H118.3M118.3 801.4H95.5V803.4H118.3M118.3 805.4H99.0V807.4H118.3M95.5 802.4H83.5V806.4H99.0M101.7 798.4H69.7V804.4H83.5M92.5 794.4H69.7V801.4H69.7M118.3 809.4H96.3V811.4H118.3M118.3 813.4H98.5V815.4H118.3M118.3 817.4H94.2V819.4H118.3M118.3 821.4H93.1V823.4H118.3M94.2 818.4H78.4V822.4H93.1M98.5 814.4H75.8V820.4H78.4M96.3 810.4H65.5V817.4H75.8M69.7 797.9H60.3V813.9H65.5M69.1 781.9H59.5V805.9H60.3M118.3 825.4H95.3V827.4H118.3M118.3 829.4H94.9V831.4H118.3M95.3 826.4H62.3V830.4H94.9M59.5 793.9H57.0V828.4H62.3M62.6 772.4H49.7V811.1H57.0M93.2 766.4H45.8V791.8H49.7M54.6 746.6H29.1V779.1H45.8M118.3 833.4H102.8V835.4H118.3M118.3 837.4H100.0V839.4H118.3M118.3 841.4H96.6V843.4H118.3M118.3 845.4H100.9V847.4H118.3M96.6 842.4H86.5V846.4H100.9M118.3 849.4H102.7V851.4H118.3M118.3 853.4H96.6V855.4H118.3M102.7 850.4H73.7V854.4H96.6M118.3 857.4H94.9V859.4H118.3M118.3 861.4H101.6V863.4H118.3M94.9 858.4H94.1V862.4H101.6M118.3 865.4H98.1V867.4H118.3M94.1 860.4H90.8V866.4H98.1M118.3 869.4H102.8V871.4H118.3M118.3 873.4H102.4V875.4H118.3M118.3 877.4H93.3V879.4H118.3M118.3 881.4H101.6V883.4H118.3M93.3 878.4H89.8V882.4H101.6M102.4 874.4H83.7V880.4H89.8M102.8 870.4H73.7V877.4H83.7M90.8 863.4H73.7V873.9H73.7M73.7 852.4H67.4V868.6H73.7M86.5 844.4H60.7V860.5H67.4M100.0 838.4H45.2V852.5H60.7M102.8 834.4H45.2V845.4H45.2M118.3 885.4H101.0V887.4H118.3M45.2 839.9H37.0V886.4H101.0M118.3 889.4H76.6V891.4H118.3M118.3 893.4H91.5V895.4H118.3M118.3 897.4H91.9V899.4H118.3M91.5 894.4H64.7V898.4H91.9M76.6 890.4H62.4V896.4H64.7M118.3 901.4H89.8V903.4H118.3M62.4 893.4H56.4V902.4H89.8M118.3 905.4H88.7V907.4H118.3M118.3 909.4H88.7V911.4H118.3M88.7 906.4H55.0V910.4H88.7M118.3 913.4H82.2V915.4H118.3M55.0 908.4H48.6V914.4H82.2M56.4 897.9H48.6V911.4H48.6M118.3 917.4H96.7V919.4H118.3M118.3 921.4H86.3V923.4H118.3M96.7 918.4H64.7V922.4H86.3M118.3 925.4H94.7V927.4H118.3M118.3 929.4H86.7V931.4H118.3M94.7 926.4H75.2V930.4H86.7M118.3 933.4H91.8V935.4H118.3M75.2 928.4H70.0V934.4H91.8M118.3 937.4H77.7V939.4H118.3M70.0 931.4H70.0V938.4H77.7M118.3 941.4H87.4V943.4H118.3M118.3 945.4H79.7V947.4H118.3M87.4 942.4H73.3V946.4H79.7M70.0 934.9H65.5V944.4H73.3M118.3 949.4H90.6V951.4H118.3M65.5 939.6H65.5V950.4H90.6M64.7 920.4H52.5V945.0H65.5M48.6 904.6H48.6V932.7H52.5M118.3 953.4H94.1V955.4H118.3M118.3 957.4H87.2V959.4H118.3M94.1 954.4H53.1V958.4H87.2M118.3 961.4H84.4V963.4H118.3M118.3 965.4H98.3V967.4H118.3M84.4 962.4H59.0V966.4H98.3M118.3 969.4H95.6V971.4H118.3M118.3 973.4H79.6V975.4H118.3M95.6 970.4H75.2V974.4H79.6M118.3 977.4H87.2V979.4H118.3M75.2 972.4H67.7V978.4H87.2M59.0 964.4H53.6V975.4H67.7M118.3 981.4H86.9V983.4H118.3M118.3 985.4H89.7V987.4H118.3M86.9 982.4H66.9V986.4H89.7M118.3 989.4H83.7V991.4H118.3M66.9 984.4H66.8V990.4H83.7M53.6 969.9H53.6V987.4H66.8M53.1 956.4H52.3V978.6H53.6M118.3 993.4H86.6V995.4H118.3M118.3 997.4H91.4V999.4H118.3M86.6 994.4H61.8V998.4H91.4M118.3 1001.4H86.7V1003.4H118.3M118.3 1005.4H89.5V1007.4H118.3M86.7 1002.4H61.5V1006.4H89.5M118.3 1009.4H97.4V1011.4H118.3M61.5 1004.4H61.5V1010.4H97.4M61.8 996.4H49.2V1007.4H61.5M52.3 967.5H48.6V1001.9H49.2M48.6 918.7H36.6V984.7H48.6M37.0 863.2H33.0V951.7H36.6M29.1 762.9H26.5V907.4H33.0M35.8 678.9H22.4V835.1H26.5"/>
<g font-size="2.10" fill="#333">
<text x="512.0" y="630.13">EI_AP10O</text>
<text x="512.0" y="632.13">XUYU_LH3</text>
<text x="512.0" y="634.13">KIU_0P</text>
<text x="512.0" y="636.13">WWU_Q14</text>
<text x="512.0" y="638.13">ATN_UAY</text>
<text x="512.0" y="640.13">DBI_KM7</text>
<text x="512.0" y="642.13">DSO_46B</text>
<text x="512.0" y="644.13">ZLQK_3NLZ6</text>
<text x="512.0" y="646.13">XT_DQRY</text>
<text x="512.0" y="648.13">BAC_0WQGO</text>
<text x="512.0" y="650.13">XMQ_Z3N</text>
<text x="512.0" y="652.13">EY_M4</text>
<text x="512.0" y="654.13">RXHE_03S9</text>
<text x="512.0" y="656.13">EYPL_RYQ</text>
<text x="512.0" y="658.13">VFP_RW</text>
<text x="512.0" y="660.13">UJ_451F</text>
<text x="512.0" y="662.13">LEJM_FU</text>
<text x="512.0" y="664.13">QL_AN</text>
<text x="512.0" y="666.13">UJ_GJOL</text>
<text x="512.0" y="668.13">LZE_Z8K</text>
<text x="512.0" y="670.13">WTZC_M5N7</text>
<text x="512.0" y="672.13">XO_9H</text>
<text x="512.0" y="674.13">NHE_59D43</text>
<text x="512.0" y="676.13">WP_5K8</text>
<text x="512.0" y="678.13">XAFK_5S3X1</text>
<text x="512.0" y="680.13">VCF_BBCV</text>
<text x="512.0" y="682.13">QP_JCN0I</text>
<text x="512.0" y="684.13">DVL_479N</text>
<text x="512.0" y="686.13">NKN_9DSS</text>
<text x="512.0" y="688.13">PMK_6WN5</text>
<text x="512.0" y="690.13">KG_TIFC</text>
<text x="512.0" y="692.13">XRM_ZT</text>
<text x="512.0" y="694.13">AB_4D6</text>
<text x="512.0" y="696.13">TMTE_NC</text>
<text x="512.0" y="698.13">UOUY_GLC</text>
<text x="512.0" y="700.13">YDU_XI</text>
<text x="512.0" y="702.13">RWI_L0CU</text>
<text x="512.0" y="704.13">NS_57</text>
<text x="512.0" y="706.13">DY_Z2EAY</text>
<text x="512.0" y="708.13">SVEP_9GF4N</text>
<text x="512.0" y="710.13">UA_AAHFN</text>
<text x="512.0" y="712.13">EP_RP</text>
<text x="512.0" y="714.13">XXF_XJ</text>
<text x="512.0" y="716.13">YCJU_3QDCA</text>
<text x="512.0" y="718.13">AU_YT</text>
<text x="512.0" y="720.13">XTF_DUX24</text>
<text x="512.0" y="722.13">FEZD_K04Y</text>
<text x="512.0" y="724.13">IZY_SRDV</text>
<text x="512.0" y="726.13">XAET_1PYY</text>
<text x="512.0" y="728.13">MTYH_SAUQR</text>
<text x="512.0" y="730.13">FSY_SJ</text>
<text x="512.0" y="732.13">EIZZ_W8F89</text>
<text x="512.0" y="734.13">ZMG_TDZ</text>
<text x="512.0" y="736.13">WGI_Y3</text>
<text x="512.0" y="738.13">CRZL_OZ</text>
<text x="512.0" y="740.13">QIQK_6MMNM</text>
<text x="512.0" y="742.13">FZ_XWZ7</text>
<text x="512.0" y="744.13">HB_XGX3F</text>
<text x="512.0" y="746.13">KT_WR</text>
<text x="512.0" y="748.13">TADB_5NQ</text>
<text x="512.0" y="750.13">NDO_QCV</text>
<text x="512.0" y="752.13">FM_BD</text>
<text x="512.0" y="754.13">RL_5EZHF</text>
<text x="512.0" y="756.13">KSH_6Z</text>
<text x="512.0" y="758.13">OF_POLC</text>
<text x="512.0" y="760.13">LBR_DQ</text>
<text x="512.0" y="762.13">WXUY_DGJUA</text>
<text x="512.0" y="764.13">VX_2G4U</text>
<text x="512.0" y="766.13">IMD_4YK2</text>
<text x="512.0" y="768.13">ZE_3M</text>
<text x="512.0" y="770.13">FH_XI</text>
<text x="512.0" y="772.13">DMA_2V</text>
<text x="512.0" y="774.13">HPD_JVOD</text>
<text x="512.0" y="776.13">WO_2JR</text>
<text x="512.0" y="778.13">NHE_RS</text>
<text x="512.0" y="780.13">ZFI_GU34H</text>
<text x="512.0" y="782.13">QB_94S</text>
<text x="512.0" y="784.13">IY_X1Q</text>
<text x="512.0" y="786.13">HD_S0KDS</text>
<text x="512.0" y="788.13">UA_6V6I2</text>
<text x="512.0" y="790.13">ZQ_LX1C</text>
<text x="512.0" y="792.13">GIS_IL7</text>
<text x="512.0" y="794.13">WF_FF5</text>
<text x="512.0" y="796.13">FGE_TMA</text>
<text x="512.0" y="798.13">WX_D7WVS</text>
<text x="512.0" y="800.13">PCAN_IRPLX</text>
<text x="512.0" y="802.13">FW_AW72</text>
<text x="512.0" y="804.13">CDLW_UYD</text>
<text x="512.0" y="806.13">DXP_6B78I</text>
<text x="512.0" y="808.13">HC_LKG</text>
<text x="512.0" y="810.13">IRA_GM</text>
<text x="512.0" y="812.13">ATU_7P2GW</text>
<text x="512.0" y="814.13">WF_RH</text>
<text x="512.0" y="816.13">PSQ_HHHZ</text>
<text x="512.0" y="818.13">RS_OJ3</text>
<text x="512.0" y="820.13">MFAU_07CZD</text>
<text x="512.0" y="822.13">KMH_1UZ9</text>
<text x="512.0" y="824.13">KQ_WP1</text>
<text x="512.0" y="826.13">UALD_EU1</text>
<text x="512.0" y="828.13">QV_OI</text>
<text x="512.0" y="830.13">MYO_CC</text>
<text x="512.0" y="832.13">TIVT_8CGQ</text>
<text x="512.0" y="834.13">QA_PCSHT</text>
<text x="512.0" y="836.13">UFD_6R</text>
<text x="512.0" y="838.13">OS_2H6</text>
<text x="512.0" y="840.13">JN_RPF8</text>
<text x="512.0" y="842.13">OTW_YM9</text>
<text x="512.0" y="844.13">LORJ_4TBPV</text>
<text x="512.0" y="846.13">GQ_ZAWKP</text>
<text x="512.0" y="848.13">RKP_SNSD</text>
<text x="512.0" y="850.13">FR_W2</text>
<text x="512.0" y="852.13">BQMO_G7OJ</text>
<text x="512.0" y="854.13">KVL_MR7</text>
<text x="512.0" y="856.13">XX_RI0GA</text>
<text x="512.0" y="858.13">YRS_5Z</text>
<text x="512.0" y="860.13">ENZI_Y2</text>
<text x="512.0" y="862.13">OJXL_WZ79</text>
<text x="512.0" y="864.13">MUKA_Y2TL8</text>
<text x="512.0" y="866.13">ZEN_OFVUP</text>
<text x="512.0" y="868.13">GNA_DQ</text>
<text x="512.0" y="870.13">PJRY_8177</text>
<text x="512.0" y="872.13">VNMO_CW2A</text>
<text x="512.0" y="874.13">CQHD_X6Z9J</text>
<text x="512.0" y="876.13">NP_2V7FK</text>
<text x="512.0" y="878.13">KLC_6LHS</text>
<text x="512.0" y="880.13">KQNU_7S6</text>
<text x="512.0" y="882.13">QG_LDGWC</text>
<text x="512.0" y="884.13">NAZA_9ATZ</text>
<text x="512.0" y="886.13">SA_ML</text>
<text x="512.0" y="888.13">YRS_86JM</text>
<text x="512.0" y="890.13">TDE_76G</text>
<text x="512.0" y="892.13">DC_753</text>
<text x="512.0" y="894.13">NZZB_UJ</text>
<text x="512.0" y="896.13">HLIF_RG</text>
<text x="512.0" y="898.13">CLGO_BDOZC</text>
<text x="512.0" y="900.13">BTH_OCK</text>
<text x="512.0" y="902.13">FKAO_0Q5E</text>
<text x="512.0" y="904.13">VM_0TZ</text>
<text x="512.0" y="906.13">PAZH_LK</text>
<text x="512.0" y="908.13">MFA_Z9XH</text>
<text x="512.0" y="910.13">RMK_EH1W9</text>
<text x="512.0" y="912.13">MG_SWP1C</text>
<text x="512.0" y="914.13">VAK_PIF</text>
<text x="512.0" y="916.13">IR_923</text>
<text x="512.0" y="918.13">FL_NZYN</text>
<text x="512.0" y="920.13">PQG_2IQ</text>
<text x="512.0" y="922.13">OSLR_Z6N</text>
<text x="512.0" y="924.13">YD_8R</text>
<text x="512.0" y="926.13">YYMA_TAY</text>
<text x="512.0" y="928.13">CWFY_UMG</text>
<text x="512.0" y="930.13">RL_METF</text>
<text x="512.0" y="932.13">JE_SWZ3I</text>
<text x="512.0" y="934.13">FAL_0B3P</text>
<text x="512.0" y="936.13">LUD_SHR</text>
<text x="512.0" y="938.13">XHWV_ZC</text>
<text x="512.0" y="940.13">FNGY_JYC9</text>
<text x="512.0" y="942.13">UUF_57Q</text>
<text x="512.0" y="944.13">VVS_AHSC</text>
<text x="512.0" y="946.13">TWBH_CU</text>
<text x="512.0" y="948.13">YL_0Z</text>
<text x="512.0" y="950.13">THIQ_W1</text>
<text x="512.0" y="952.13">KWQ_6DN16</text>
<text x="512.0" y="954.13">PY_C9Q</text>
<text x="512.0" y="956.13">RF_8QP</text>
<text x="512.0" y="958.13">FL_0FMT</text>
<text x="512.0" y="960.13">EV_4PPA6</text>
<text x="512.0" y="962.13">OEUL_IJPV</text>
<text x="512.0" y="964.13">DRNY_J3Z</text>
<text x="512.0" y="966.13">DW_AX5N</text>
<text x="512.0" y="968.13">BI_MHT2</text>
<text x="512.0" y="970.13">FK_3XSK9</text>
<text x="512.0" y="972.13">BA_5FVQG</text>
<text x="512.0" y="974.13">PNPG_AWFS</text>
<text x="512.0" y="976.13">TXUW_PFIB</text>
<text x="512.0" y="978.13">YM_SXL</text>
<text x="512.0" y="980.13">QVFD_UYLW</text>
<text x="512.0" y="982.13">HLE_QPDC</text>
<text x="512.0" y="984.13">SZ_DN515</text>
<text x="512.0" y="986.13">FJTS_JO</text>
<text x="512.0" y="988.13">EO_FC24M</text>
<text x="512.0" y="990.13">XL_C6</text>
<text x="512.0" y="992.13">EJC_60</text>
<text x="512.0" y="994.13">COA_KYS</text>
<text x="512.0" y="996.13">OZ_M4F8</text>
<text x="512.0" y="998.13">QON_ZFD</text>
<text x="512.0" y="1000.13">VKTV_0X4I</text>
<text x="512.0" y="1002.13">KQU_MO</text>
<text x="512.0" y="1004.13">XOWC_X90</text>
<text x="512.0" y="1006.13">QHS_ZQHOL</text>
<text x="512.0" y="1008.13">RX_OQ</text>
<text x="512.0" y="1010.13">DGQV_5O93</text>
<text x="512.0" y="1012.13">RS_6F</text>
</g>
<text x="0" y="0" font-size="29.2" text-anchor="end" stroke="#000" stroke-width="0.3" transform="translate(145.3 1032.7) rotate(-45)">Lungs_4</text>
<text x="0" y="0" font-size="29.2" text-anchor="end" stroke="#000" stroke-width="0.3" transform="translate(205.2 1032.7) rotate(-45)">Tumour_3</text>
<text x="0" y="0" font-size="29.2" text-anchor="end" stroke="#000" stroke-width="0.3" transform="translate(255.0 1031.4) rotate(-45)">Tumour_1</text>
<text x="0" y="0" font-size="29.2" text-anchor="end" stroke="#000" stroke-width="0.3" transform="translate(300.8 1033.1) rotate(-45)">Tumour_5</text>
<text x="0" y="0" font-size="29.2" text-anchor="end" stroke="#000" stroke-width="0.3" transform="translate(348.3 1032.7) rotate(-45)">Tumour_4</text>
<text x="0" y="0" font-size="29.2" text-anchor="end" stroke="#000" stroke-width="0.3" transform="translate(400.7 1032.0) rotate(-45)">Lungs_1</text>
<text x="0" y="0" font-size="29.2" text-anchor="end" stroke="#000" stroke-width="0.3" transform="translate(446.7 1033.4) rotate(-45)">Lungs_3</text>
<text x="0" y="0" font-size="29.2" text-anchor="end" stroke="#000" stroke-width="0.3" transform="translate(498.8 1033.1) rotate(-45)">Lungs_5</text>
</svg>
</body></html>
